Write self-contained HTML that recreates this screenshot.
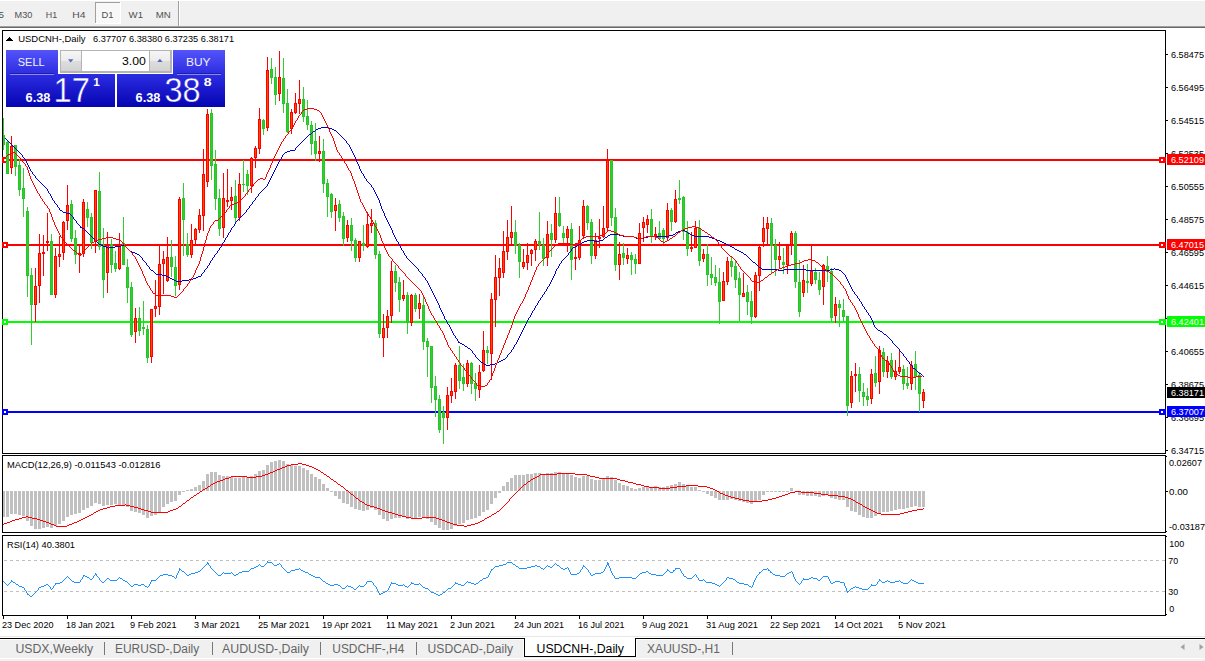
<!DOCTYPE html>
<html><head><meta charset="utf-8"><title>USDCNH Daily</title><style>html,body{margin:0;padding:0;background:#fff;overflow:hidden}svg{display:block}text{shape-rendering:auto}</style></head><body><svg width="1205" height="661" viewBox="0 0 1205 661" font-family="'Liberation Sans', sans-serif" shape-rendering="crispEdges">
<defs><linearGradient id="bl" gradientUnits="userSpaceOnUse" x1="0" y1="50" x2="0" y2="107"><stop offset="0" stop-color="#5454fa"/><stop offset="0.45" stop-color="#2a2ae0"/><stop offset="1" stop-color="#0505b2"/></linearGradient><linearGradient id="sp" x1="0" y1="0" x2="0" y2="1"><stop offset="0" stop-color="#f6f6f6"/><stop offset="0.5" stop-color="#ebebeb"/><stop offset="0.5" stop-color="#dedede"/><stop offset="1" stop-color="#d2d2d2"/></linearGradient></defs>
<rect x="0" y="0" width="1205" height="661" fill="#fff" />
<rect x="0" y="1" width="1205" height="25" fill="#f0f0f0" />
<rect x="0" y="26" width="1205" height="1" fill="#a0a0a0" />
<rect x="0" y="27" width="1205" height="1" fill="#696969" />
<rect x="95" y="2" width="26" height="22" fill="#f8f8f8" />
<rect x="95" y="2" width="26" height="1" fill="#a0a0a0" />
<rect x="95" y="2" width="1" height="22" fill="#a0a0a0" />
<rect x="95" y="23" width="26" height="1" fill="#fff" />
<rect x="120" y="2" width="1" height="22" fill="#fff" />
<rect x="178" y="1" width="1" height="25" fill="#a0a0a0" />
<rect x="179" y="1" width="1" height="25" fill="#fff" />
<text x="-1.5" y="18" font-size="9.6" fill="#505050" text-anchor="start" font-weight="normal" textLength="5.5" lengthAdjust="spacingAndGlyphs" >5</text>
<text x="14.6" y="18" font-size="9.6" fill="#505050" text-anchor="start" font-weight="normal" textLength="17.8" lengthAdjust="spacingAndGlyphs" >M30</text>
<text x="45.8" y="18" font-size="9.6" fill="#505050" text-anchor="start" font-weight="normal" textLength="11.4" lengthAdjust="spacingAndGlyphs" >H1</text>
<text x="72.2" y="18" font-size="9.6" fill="#505050" text-anchor="start" font-weight="normal" textLength="13.2" lengthAdjust="spacingAndGlyphs" >H4</text>
<text x="101.4" y="18" font-size="9.6" fill="#505050" text-anchor="start" font-weight="normal" textLength="12" lengthAdjust="spacingAndGlyphs" >D1</text>
<text x="128.6" y="18" font-size="9.6" fill="#505050" text-anchor="start" font-weight="normal" textLength="14.4" lengthAdjust="spacingAndGlyphs" >W1</text>
<text x="155.7" y="18" font-size="9.6" fill="#505050" text-anchor="start" font-weight="normal" textLength="15" lengthAdjust="spacingAndGlyphs" >MN</text>
<rect x="2" y="30" width="1164" height="1" fill="#000" />
<rect x="2" y="30" width="1" height="424" fill="#000" />
<rect x="2" y="453" width="1164" height="1" fill="#000" />
<rect x="1165" y="30" width="1" height="424" fill="#000" />
<rect x="2" y="455" width="1164" height="1" fill="#000" />
<rect x="2" y="455" width="1" height="78" fill="#000" />
<rect x="2" y="532" width="1164" height="1" fill="#000" />
<rect x="1165" y="455" width="1" height="78" fill="#000" />
<rect x="2" y="535" width="1164" height="1" fill="#000" />
<rect x="2" y="535" width="1" height="81" fill="#000" />
<rect x="2" y="615" width="1164" height="1" fill="#000" />
<rect x="1165" y="535" width="1" height="81" fill="#000" />
<rect x="1166" y="54" width="2" height="1" fill="#000" />
<text x="1171" y="58" font-size="9.6" fill="#000" text-anchor="start" font-weight="normal" textLength="33" lengthAdjust="spacingAndGlyphs" >6.58475</text>
<rect x="1166" y="87" width="2" height="1" fill="#000" />
<text x="1171" y="91" font-size="9.6" fill="#000" text-anchor="start" font-weight="normal" textLength="33" lengthAdjust="spacingAndGlyphs" >6.56495</text>
<rect x="1166" y="120" width="2" height="1" fill="#000" />
<text x="1171" y="124" font-size="9.6" fill="#000" text-anchor="start" font-weight="normal" textLength="33" lengthAdjust="spacingAndGlyphs" >6.54515</text>
<rect x="1166" y="153" width="2" height="1" fill="#000" />
<text x="1171" y="157" font-size="9.6" fill="#000" text-anchor="start" font-weight="normal" textLength="33" lengthAdjust="spacingAndGlyphs" >6.52535</text>
<rect x="1166" y="186" width="2" height="1" fill="#000" />
<text x="1171" y="190" font-size="9.6" fill="#000" text-anchor="start" font-weight="normal" textLength="33" lengthAdjust="spacingAndGlyphs" >6.50555</text>
<rect x="1166" y="219" width="2" height="1" fill="#000" />
<text x="1171" y="223" font-size="9.6" fill="#000" text-anchor="start" font-weight="normal" textLength="33" lengthAdjust="spacingAndGlyphs" >6.48575</text>
<rect x="1166" y="252" width="2" height="1" fill="#000" />
<text x="1171" y="256" font-size="9.6" fill="#000" text-anchor="start" font-weight="normal" textLength="33" lengthAdjust="spacingAndGlyphs" >6.46595</text>
<rect x="1166" y="285" width="2" height="1" fill="#000" />
<text x="1171" y="289" font-size="9.6" fill="#000" text-anchor="start" font-weight="normal" textLength="33" lengthAdjust="spacingAndGlyphs" >6.44615</text>
<rect x="1166" y="318" width="2" height="1" fill="#000" />
<text x="1171" y="322" font-size="9.6" fill="#000" text-anchor="start" font-weight="normal" textLength="33" lengthAdjust="spacingAndGlyphs" >6.42635</text>
<rect x="1166" y="351" width="2" height="1" fill="#000" />
<text x="1171" y="355" font-size="9.6" fill="#000" text-anchor="start" font-weight="normal" textLength="33" lengthAdjust="spacingAndGlyphs" >6.40655</text>
<rect x="1166" y="384" width="2" height="1" fill="#000" />
<text x="1171" y="388" font-size="9.6" fill="#000" text-anchor="start" font-weight="normal" textLength="33" lengthAdjust="spacingAndGlyphs" >6.38675</text>
<rect x="1166" y="417" width="2" height="1" fill="#000" />
<text x="1171" y="421" font-size="9.6" fill="#000" text-anchor="start" font-weight="normal" textLength="33" lengthAdjust="spacingAndGlyphs" >6.36695</text>
<rect x="1166" y="450" width="2" height="1" fill="#000" />
<text x="1171" y="454" font-size="9.6" fill="#000" text-anchor="start" font-weight="normal" textLength="33" lengthAdjust="spacingAndGlyphs" >6.34715</text>
<rect x="1166" y="456" width="1" height="1" fill="#000" />
<rect x="1166" y="531" width="1" height="1" fill="#000" />
<rect x="1166" y="536" width="1" height="1" fill="#000" />
<text x="1169" y="466.0" font-size="9.6" fill="#000" text-anchor="start" font-weight="normal" textLength="33" lengthAdjust="spacingAndGlyphs" >0.02607</text>
<rect x="1166" y="491" width="2" height="1" fill="#000" />
<text x="1169" y="495.0" font-size="9.6" fill="#000" text-anchor="start" font-weight="normal" textLength="19" lengthAdjust="spacingAndGlyphs" >0.00</text>
<text x="1169" y="529.8" font-size="9.6" fill="#000" text-anchor="start" font-weight="normal" textLength="36" lengthAdjust="spacingAndGlyphs" >-0.03187</text>
<text x="1169.3" y="546.5" font-size="9.6" fill="#000" text-anchor="start" font-weight="normal" textLength="15" lengthAdjust="spacingAndGlyphs" >100</text>
<text x="1168.3" y="564.0" font-size="9.6" fill="#000" text-anchor="start" font-weight="normal" textLength="9.8" lengthAdjust="spacingAndGlyphs" >70</text>
<text x="1168.3" y="595.0" font-size="9.6" fill="#000" text-anchor="start" font-weight="normal" textLength="9.8" lengthAdjust="spacingAndGlyphs" >30</text>
<text x="1169.2" y="612.3" font-size="9.6" fill="#000" text-anchor="start" font-weight="normal" textLength="5" lengthAdjust="spacingAndGlyphs" >0</text>
<rect x="1166" y="614" width="1" height="1" fill="#000" />
<rect x="3" y="159" width="1162" height="2" fill="#ff0000" />
<rect x="2" y="157" width="6" height="6" fill="#ff0000" />
<rect x="4" y="159" width="2" height="2" fill="#fff" />
<rect x="1159" y="157" width="7" height="6" fill="#ff0000" />
<rect x="1161" y="159" width="2" height="2" fill="#fff" />
<rect x="3" y="244" width="1162" height="2" fill="#ff0000" />
<rect x="2" y="242" width="6" height="6" fill="#ff0000" />
<rect x="4" y="244" width="2" height="2" fill="#fff" />
<rect x="1159" y="242" width="7" height="6" fill="#ff0000" />
<rect x="1161" y="244" width="2" height="2" fill="#fff" />
<rect x="3" y="321" width="1162" height="2" fill="#00ff00" />
<rect x="2" y="319" width="6" height="6" fill="#00ff00" />
<rect x="4" y="321" width="2" height="2" fill="#fff" />
<rect x="1159" y="319" width="7" height="6" fill="#00ff00" />
<rect x="1161" y="321" width="2" height="2" fill="#fff" />
<rect x="3" y="411" width="1162" height="2" fill="#0000ff" />
<rect x="2" y="409" width="6" height="6" fill="#0000ff" />
<rect x="4" y="411" width="2" height="2" fill="#fff" />
<rect x="1159" y="409" width="7" height="6" fill="#0000ff" />
<rect x="1161" y="411" width="2" height="2" fill="#fff" />
<rect x="3" y="118" width="1" height="32" fill="#32cd32" />
<rect x="3" y="135" width="2" height="10" fill="#25c625" />
<rect x="7" y="140" width="1" height="34" fill="#32cd32" />
<rect x="6" y="142" width="3" height="32" fill="#25c625" />
<rect x="7" y="143" width="1" height="30" fill="#32cd32" />
<rect x="11" y="136" width="1" height="38" fill="#ff0000" />
<rect x="10" y="146" width="3" height="22" fill="#ff0000" />
<rect x="11" y="147" width="1" height="20" fill="#ff4500" />
<rect x="15" y="145" width="1" height="31" fill="#32cd32" />
<rect x="14" y="145" width="3" height="22" fill="#25c625" />
<rect x="15" y="146" width="1" height="20" fill="#32cd32" />
<rect x="19" y="159" width="1" height="37" fill="#32cd32" />
<rect x="18" y="165" width="3" height="25" fill="#25c625" />
<rect x="19" y="166" width="1" height="23" fill="#32cd32" />
<rect x="23" y="168" width="1" height="49" fill="#32cd32" />
<rect x="22" y="188" width="3" height="11" fill="#25c625" />
<rect x="23" y="189" width="1" height="9" fill="#32cd32" />
<rect x="27" y="207" width="1" height="90" fill="#32cd32" />
<rect x="26" y="211" width="3" height="65" fill="#25c625" />
<rect x="27" y="212" width="1" height="63" fill="#32cd32" />
<rect x="31" y="268" width="1" height="77" fill="#32cd32" />
<rect x="30" y="275" width="3" height="30" fill="#25c625" />
<rect x="31" y="276" width="1" height="28" fill="#32cd32" />
<rect x="35" y="268" width="1" height="54" fill="#ff0000" />
<rect x="34" y="286" width="3" height="19" fill="#ff0000" />
<rect x="35" y="287" width="1" height="17" fill="#ff4500" />
<rect x="39" y="234" width="1" height="69" fill="#ff0000" />
<rect x="38" y="253" width="3" height="33" fill="#ff0000" />
<rect x="39" y="254" width="1" height="31" fill="#ff4500" />
<rect x="43" y="235" width="1" height="41" fill="#ff0000" />
<rect x="42" y="252" width="3" height="2" fill="#ff0000" />
<rect x="47" y="213" width="1" height="38" fill="#ff0000" />
<rect x="46" y="241" width="3" height="2" fill="#ff0000" />
<rect x="51" y="234" width="1" height="61" fill="#32cd32" />
<rect x="50" y="241" width="3" height="54" fill="#25c625" />
<rect x="51" y="242" width="1" height="52" fill="#32cd32" />
<rect x="55" y="248" width="1" height="50" fill="#ff0000" />
<rect x="54" y="256" width="3" height="39" fill="#ff0000" />
<rect x="55" y="257" width="1" height="37" fill="#ff4500" />
<rect x="59" y="236" width="1" height="31" fill="#ff0000" />
<rect x="58" y="254" width="3" height="3" fill="#ff0000" />
<rect x="59" y="255" width="1" height="1" fill="#ff4500" />
<rect x="63" y="221" width="1" height="39" fill="#ff0000" />
<rect x="62" y="222" width="3" height="31" fill="#ff0000" />
<rect x="63" y="223" width="1" height="29" fill="#ff4500" />
<rect x="67" y="185" width="1" height="45" fill="#ff0000" />
<rect x="66" y="205" width="3" height="16" fill="#ff0000" />
<rect x="67" y="206" width="1" height="14" fill="#ff4500" />
<rect x="71" y="200" width="1" height="42" fill="#32cd32" />
<rect x="70" y="204" width="3" height="35" fill="#25c625" />
<rect x="71" y="205" width="1" height="33" fill="#32cd32" />
<rect x="75" y="230" width="1" height="34" fill="#32cd32" />
<rect x="74" y="238" width="3" height="17" fill="#25c625" />
<rect x="75" y="239" width="1" height="15" fill="#32cd32" />
<rect x="79" y="245" width="1" height="28" fill="#ff0000" />
<rect x="78" y="253" width="3" height="2" fill="#ff0000" />
<rect x="83" y="199" width="1" height="58" fill="#ff0000" />
<rect x="82" y="202" width="3" height="52" fill="#ff0000" />
<rect x="83" y="203" width="1" height="50" fill="#ff4500" />
<rect x="87" y="202" width="1" height="25" fill="#32cd32" />
<rect x="86" y="209" width="3" height="9" fill="#25c625" />
<rect x="87" y="210" width="1" height="7" fill="#32cd32" />
<rect x="91" y="213" width="1" height="36" fill="#32cd32" />
<rect x="90" y="217" width="3" height="26" fill="#25c625" />
<rect x="91" y="218" width="1" height="24" fill="#32cd32" />
<rect x="95" y="190" width="1" height="63" fill="#ff0000" />
<rect x="94" y="190" width="3" height="52" fill="#ff0000" />
<rect x="95" y="191" width="1" height="50" fill="#ff4500" />
<rect x="99" y="172" width="1" height="78" fill="#32cd32" />
<rect x="98" y="191" width="3" height="56" fill="#25c625" />
<rect x="99" y="192" width="1" height="54" fill="#32cd32" />
<rect x="103" y="228" width="1" height="70" fill="#32cd32" />
<rect x="102" y="245" width="3" height="35" fill="#25c625" />
<rect x="103" y="246" width="1" height="33" fill="#32cd32" />
<rect x="107" y="232" width="1" height="61" fill="#ff0000" />
<rect x="106" y="245" width="3" height="28" fill="#ff0000" />
<rect x="107" y="246" width="1" height="26" fill="#ff4500" />
<rect x="111" y="239" width="1" height="34" fill="#32cd32" />
<rect x="110" y="244" width="3" height="21" fill="#25c625" />
<rect x="111" y="245" width="1" height="19" fill="#32cd32" />
<rect x="115" y="251" width="1" height="21" fill="#32cd32" />
<rect x="114" y="263" width="3" height="6" fill="#25c625" />
<rect x="115" y="264" width="1" height="4" fill="#32cd32" />
<rect x="119" y="233" width="1" height="37" fill="#ff0000" />
<rect x="118" y="245" width="3" height="24" fill="#ff0000" />
<rect x="119" y="246" width="1" height="22" fill="#ff4500" />
<rect x="123" y="217" width="1" height="48" fill="#32cd32" />
<rect x="122" y="243" width="3" height="22" fill="#25c625" />
<rect x="123" y="244" width="1" height="20" fill="#32cd32" />
<rect x="127" y="259" width="1" height="44" fill="#32cd32" />
<rect x="126" y="267" width="3" height="21" fill="#25c625" />
<rect x="127" y="268" width="1" height="19" fill="#32cd32" />
<rect x="131" y="282" width="1" height="55" fill="#32cd32" />
<rect x="130" y="287" width="3" height="48" fill="#25c625" />
<rect x="131" y="288" width="1" height="46" fill="#32cd32" />
<rect x="135" y="308" width="1" height="35" fill="#ff0000" />
<rect x="134" y="318" width="3" height="14" fill="#ff0000" />
<rect x="135" y="319" width="1" height="12" fill="#ff4500" />
<rect x="139" y="307" width="1" height="29" fill="#32cd32" />
<rect x="138" y="318" width="3" height="13" fill="#25c625" />
<rect x="139" y="319" width="1" height="11" fill="#32cd32" />
<rect x="143" y="301" width="1" height="34" fill="#32cd32" />
<rect x="142" y="327" width="3" height="2" fill="#25c625" />
<rect x="147" y="325" width="1" height="38" fill="#32cd32" />
<rect x="146" y="329" width="3" height="29" fill="#25c625" />
<rect x="147" y="330" width="1" height="27" fill="#32cd32" />
<rect x="151" y="309" width="1" height="54" fill="#ff0000" />
<rect x="150" y="309" width="3" height="48" fill="#ff0000" />
<rect x="151" y="310" width="1" height="46" fill="#ff4500" />
<rect x="155" y="280" width="1" height="37" fill="#ff0000" />
<rect x="154" y="306" width="3" height="3" fill="#ff0000" />
<rect x="155" y="307" width="1" height="1" fill="#ff4500" />
<rect x="159" y="246" width="1" height="69" fill="#ff0000" />
<rect x="158" y="264" width="3" height="43" fill="#ff0000" />
<rect x="159" y="265" width="1" height="41" fill="#ff4500" />
<rect x="163" y="251" width="1" height="43" fill="#ff0000" />
<rect x="162" y="259" width="3" height="5" fill="#ff0000" />
<rect x="163" y="260" width="1" height="3" fill="#ff4500" />
<rect x="167" y="237" width="1" height="45" fill="#ff0000" />
<rect x="166" y="257" width="3" height="24" fill="#ff0000" />
<rect x="167" y="258" width="1" height="22" fill="#ff4500" />
<rect x="171" y="240" width="1" height="37" fill="#32cd32" />
<rect x="170" y="257" width="3" height="10" fill="#25c625" />
<rect x="171" y="258" width="1" height="8" fill="#32cd32" />
<rect x="175" y="256" width="1" height="40" fill="#32cd32" />
<rect x="174" y="267" width="3" height="19" fill="#25c625" />
<rect x="175" y="268" width="1" height="17" fill="#32cd32" />
<rect x="179" y="197" width="1" height="93" fill="#ff0000" />
<rect x="178" y="199" width="3" height="86" fill="#ff0000" />
<rect x="179" y="200" width="1" height="84" fill="#ff4500" />
<rect x="183" y="183" width="1" height="73" fill="#32cd32" />
<rect x="182" y="198" width="3" height="22" fill="#25c625" />
<rect x="183" y="199" width="1" height="20" fill="#32cd32" />
<rect x="187" y="233" width="1" height="24" fill="#32cd32" />
<rect x="186" y="244" width="3" height="11" fill="#25c625" />
<rect x="187" y="245" width="1" height="9" fill="#32cd32" />
<rect x="191" y="224" width="1" height="34" fill="#ff0000" />
<rect x="190" y="240" width="3" height="15" fill="#ff0000" />
<rect x="191" y="241" width="1" height="13" fill="#ff4500" />
<rect x="195" y="228" width="1" height="16" fill="#ff0000" />
<rect x="194" y="229" width="3" height="11" fill="#ff0000" />
<rect x="195" y="230" width="1" height="9" fill="#ff4500" />
<rect x="199" y="209" width="1" height="24" fill="#ff0000" />
<rect x="198" y="215" width="3" height="15" fill="#ff0000" />
<rect x="199" y="216" width="1" height="13" fill="#ff4500" />
<rect x="203" y="149" width="1" height="82" fill="#ff0000" />
<rect x="202" y="174" width="3" height="42" fill="#ff0000" />
<rect x="203" y="175" width="1" height="40" fill="#ff4500" />
<rect x="207" y="109" width="1" height="78" fill="#ff0000" />
<rect x="206" y="114" width="3" height="68" fill="#ff0000" />
<rect x="207" y="115" width="1" height="66" fill="#ff4500" />
<rect x="211" y="109" width="1" height="71" fill="#32cd32" />
<rect x="210" y="113" width="3" height="53" fill="#25c625" />
<rect x="211" y="114" width="1" height="51" fill="#32cd32" />
<rect x="215" y="150" width="1" height="60" fill="#32cd32" />
<rect x="214" y="164" width="3" height="35" fill="#25c625" />
<rect x="215" y="165" width="1" height="33" fill="#32cd32" />
<rect x="219" y="189" width="1" height="47" fill="#32cd32" />
<rect x="218" y="198" width="3" height="31" fill="#25c625" />
<rect x="219" y="199" width="1" height="29" fill="#32cd32" />
<rect x="223" y="173" width="1" height="65" fill="#ff0000" />
<rect x="222" y="198" width="3" height="30" fill="#ff0000" />
<rect x="223" y="199" width="1" height="28" fill="#ff4500" />
<rect x="227" y="169" width="1" height="38" fill="#ff0000" />
<rect x="226" y="200" width="3" height="2" fill="#ff0000" />
<rect x="231" y="187" width="1" height="23" fill="#ff0000" />
<rect x="230" y="197" width="3" height="4" fill="#ff0000" />
<rect x="231" y="198" width="1" height="2" fill="#ff4500" />
<rect x="235" y="180" width="1" height="43" fill="#32cd32" />
<rect x="234" y="196" width="3" height="22" fill="#25c625" />
<rect x="235" y="197" width="1" height="20" fill="#32cd32" />
<rect x="239" y="173" width="1" height="48" fill="#ff0000" />
<rect x="238" y="184" width="3" height="34" fill="#ff0000" />
<rect x="239" y="185" width="1" height="32" fill="#ff4500" />
<rect x="243" y="160" width="1" height="32" fill="#32cd32" />
<rect x="242" y="184" width="3" height="1" fill="#25c625" />
<rect x="247" y="170" width="1" height="25" fill="#32cd32" />
<rect x="246" y="174" width="3" height="12" fill="#25c625" />
<rect x="247" y="175" width="1" height="10" fill="#32cd32" />
<rect x="251" y="157" width="1" height="36" fill="#ff0000" />
<rect x="250" y="158" width="3" height="28" fill="#ff0000" />
<rect x="251" y="159" width="1" height="26" fill="#ff4500" />
<rect x="255" y="146" width="1" height="22" fill="#ff0000" />
<rect x="254" y="148" width="3" height="10" fill="#ff0000" />
<rect x="255" y="149" width="1" height="8" fill="#ff4500" />
<rect x="259" y="108" width="1" height="46" fill="#ff0000" />
<rect x="258" y="119" width="3" height="30" fill="#ff0000" />
<rect x="259" y="120" width="1" height="28" fill="#ff4500" />
<rect x="263" y="119" width="1" height="16" fill="#32cd32" />
<rect x="262" y="120" width="3" height="9" fill="#25c625" />
<rect x="263" y="121" width="1" height="7" fill="#32cd32" />
<rect x="267" y="57" width="1" height="74" fill="#ff0000" />
<rect x="266" y="70" width="3" height="58" fill="#ff0000" />
<rect x="267" y="71" width="1" height="56" fill="#ff4500" />
<rect x="271" y="58" width="1" height="26" fill="#32cd32" />
<rect x="270" y="69" width="3" height="9" fill="#25c625" />
<rect x="271" y="70" width="1" height="7" fill="#32cd32" />
<rect x="275" y="67" width="1" height="38" fill="#32cd32" />
<rect x="274" y="77" width="3" height="18" fill="#25c625" />
<rect x="275" y="78" width="1" height="16" fill="#32cd32" />
<rect x="279" y="51" width="1" height="50" fill="#ff0000" />
<rect x="278" y="77" width="3" height="17" fill="#ff0000" />
<rect x="279" y="78" width="1" height="15" fill="#ff4500" />
<rect x="283" y="58" width="1" height="55" fill="#32cd32" />
<rect x="282" y="78" width="3" height="26" fill="#25c625" />
<rect x="283" y="79" width="1" height="24" fill="#32cd32" />
<rect x="287" y="89" width="1" height="44" fill="#32cd32" />
<rect x="286" y="103" width="3" height="29" fill="#25c625" />
<rect x="287" y="104" width="1" height="27" fill="#32cd32" />
<rect x="291" y="109" width="1" height="25" fill="#ff0000" />
<rect x="290" y="112" width="3" height="17" fill="#ff0000" />
<rect x="291" y="113" width="1" height="15" fill="#ff4500" />
<rect x="295" y="93" width="1" height="21" fill="#ff0000" />
<rect x="294" y="103" width="3" height="10" fill="#ff0000" />
<rect x="295" y="104" width="1" height="8" fill="#ff4500" />
<rect x="299" y="80" width="1" height="34" fill="#ff0000" />
<rect x="298" y="99" width="3" height="5" fill="#ff0000" />
<rect x="299" y="100" width="1" height="3" fill="#ff4500" />
<rect x="303" y="87" width="1" height="35" fill="#32cd32" />
<rect x="302" y="99" width="3" height="18" fill="#25c625" />
<rect x="303" y="100" width="1" height="16" fill="#32cd32" />
<rect x="307" y="100" width="1" height="30" fill="#32cd32" />
<rect x="306" y="116" width="3" height="9" fill="#25c625" />
<rect x="307" y="117" width="1" height="7" fill="#32cd32" />
<rect x="311" y="121" width="1" height="34" fill="#32cd32" />
<rect x="310" y="125" width="3" height="19" fill="#25c625" />
<rect x="311" y="126" width="1" height="17" fill="#32cd32" />
<rect x="315" y="123" width="1" height="38" fill="#32cd32" />
<rect x="314" y="141" width="3" height="13" fill="#25c625" />
<rect x="315" y="142" width="1" height="11" fill="#32cd32" />
<rect x="319" y="136" width="1" height="26" fill="#ff0000" />
<rect x="318" y="151" width="3" height="3" fill="#ff0000" />
<rect x="319" y="152" width="1" height="1" fill="#ff4500" />
<rect x="323" y="139" width="1" height="54" fill="#32cd32" />
<rect x="322" y="151" width="3" height="33" fill="#25c625" />
<rect x="323" y="152" width="1" height="31" fill="#32cd32" />
<rect x="327" y="179" width="1" height="38" fill="#32cd32" />
<rect x="326" y="183" width="3" height="14" fill="#25c625" />
<rect x="327" y="184" width="1" height="12" fill="#32cd32" />
<rect x="331" y="193" width="1" height="25" fill="#32cd32" />
<rect x="330" y="194" width="3" height="18" fill="#25c625" />
<rect x="331" y="195" width="1" height="16" fill="#32cd32" />
<rect x="335" y="198" width="1" height="33" fill="#ff0000" />
<rect x="334" y="205" width="3" height="6" fill="#ff0000" />
<rect x="335" y="206" width="1" height="4" fill="#ff4500" />
<rect x="339" y="200" width="1" height="22" fill="#32cd32" />
<rect x="338" y="204" width="3" height="14" fill="#25c625" />
<rect x="339" y="205" width="1" height="12" fill="#32cd32" />
<rect x="343" y="212" width="1" height="34" fill="#32cd32" />
<rect x="342" y="216" width="3" height="23" fill="#25c625" />
<rect x="343" y="217" width="1" height="21" fill="#32cd32" />
<rect x="347" y="220" width="1" height="22" fill="#ff0000" />
<rect x="346" y="225" width="3" height="13" fill="#ff0000" />
<rect x="347" y="226" width="1" height="11" fill="#ff4500" />
<rect x="351" y="218" width="1" height="33" fill="#32cd32" />
<rect x="350" y="225" width="3" height="16" fill="#25c625" />
<rect x="351" y="226" width="1" height="14" fill="#32cd32" />
<rect x="355" y="238" width="1" height="24" fill="#32cd32" />
<rect x="354" y="240" width="3" height="18" fill="#25c625" />
<rect x="355" y="241" width="1" height="16" fill="#32cd32" />
<rect x="359" y="241" width="1" height="21" fill="#ff0000" />
<rect x="358" y="241" width="3" height="17" fill="#ff0000" />
<rect x="359" y="242" width="1" height="15" fill="#ff4500" />
<rect x="363" y="225" width="1" height="26" fill="#32cd32" />
<rect x="362" y="243" width="3" height="3" fill="#25c625" />
<rect x="363" y="244" width="1" height="1" fill="#32cd32" />
<rect x="367" y="212" width="1" height="36" fill="#ff0000" />
<rect x="366" y="224" width="3" height="23" fill="#ff0000" />
<rect x="367" y="225" width="1" height="21" fill="#ff4500" />
<rect x="371" y="209" width="1" height="24" fill="#ff0000" />
<rect x="370" y="223" width="3" height="3" fill="#ff0000" />
<rect x="371" y="224" width="1" height="1" fill="#ff4500" />
<rect x="375" y="220" width="1" height="39" fill="#32cd32" />
<rect x="374" y="223" width="3" height="32" fill="#25c625" />
<rect x="375" y="224" width="1" height="30" fill="#32cd32" />
<rect x="379" y="251" width="1" height="87" fill="#32cd32" />
<rect x="378" y="254" width="3" height="80" fill="#25c625" />
<rect x="379" y="255" width="1" height="78" fill="#32cd32" />
<rect x="383" y="314" width="1" height="43" fill="#ff0000" />
<rect x="382" y="328" width="3" height="10" fill="#ff0000" />
<rect x="383" y="329" width="1" height="8" fill="#ff4500" />
<rect x="387" y="310" width="1" height="28" fill="#ff0000" />
<rect x="386" y="316" width="3" height="12" fill="#ff0000" />
<rect x="387" y="317" width="1" height="10" fill="#ff4500" />
<rect x="391" y="261" width="1" height="62" fill="#ff0000" />
<rect x="390" y="271" width="3" height="45" fill="#ff0000" />
<rect x="391" y="272" width="1" height="43" fill="#ff4500" />
<rect x="395" y="265" width="1" height="27" fill="#32cd32" />
<rect x="394" y="271" width="3" height="12" fill="#25c625" />
<rect x="395" y="272" width="1" height="10" fill="#32cd32" />
<rect x="399" y="277" width="1" height="35" fill="#32cd32" />
<rect x="398" y="282" width="3" height="18" fill="#25c625" />
<rect x="399" y="283" width="1" height="16" fill="#32cd32" />
<rect x="403" y="280" width="1" height="21" fill="#ff0000" />
<rect x="402" y="295" width="3" height="4" fill="#ff0000" />
<rect x="403" y="296" width="1" height="2" fill="#ff4500" />
<rect x="407" y="292" width="1" height="42" fill="#32cd32" />
<rect x="406" y="295" width="3" height="28" fill="#25c625" />
<rect x="407" y="296" width="1" height="26" fill="#32cd32" />
<rect x="411" y="294" width="1" height="32" fill="#ff0000" />
<rect x="410" y="295" width="3" height="28" fill="#ff0000" />
<rect x="411" y="296" width="1" height="26" fill="#ff4500" />
<rect x="415" y="293" width="1" height="19" fill="#32cd32" />
<rect x="414" y="295" width="3" height="14" fill="#25c625" />
<rect x="415" y="296" width="1" height="12" fill="#32cd32" />
<rect x="419" y="294" width="1" height="25" fill="#ff0000" />
<rect x="418" y="303" width="3" height="6" fill="#ff0000" />
<rect x="419" y="304" width="1" height="4" fill="#ff4500" />
<rect x="423" y="295" width="1" height="55" fill="#32cd32" />
<rect x="422" y="305" width="3" height="37" fill="#25c625" />
<rect x="423" y="306" width="1" height="35" fill="#32cd32" />
<rect x="427" y="338" width="1" height="39" fill="#32cd32" />
<rect x="426" y="341" width="3" height="6" fill="#25c625" />
<rect x="427" y="342" width="1" height="4" fill="#32cd32" />
<rect x="431" y="346" width="1" height="57" fill="#32cd32" />
<rect x="430" y="346" width="3" height="42" fill="#25c625" />
<rect x="431" y="347" width="1" height="40" fill="#32cd32" />
<rect x="435" y="376" width="1" height="41" fill="#32cd32" />
<rect x="434" y="386" width="3" height="14" fill="#25c625" />
<rect x="435" y="387" width="1" height="12" fill="#32cd32" />
<rect x="439" y="395" width="1" height="38" fill="#32cd32" />
<rect x="438" y="399" width="3" height="31" fill="#25c625" />
<rect x="439" y="400" width="1" height="29" fill="#32cd32" />
<rect x="443" y="406" width="1" height="38" fill="#32cd32" />
<rect x="442" y="412" width="3" height="6" fill="#25c625" />
<rect x="443" y="413" width="1" height="4" fill="#32cd32" />
<rect x="447" y="387" width="1" height="43" fill="#ff0000" />
<rect x="446" y="395" width="3" height="23" fill="#ff0000" />
<rect x="447" y="396" width="1" height="21" fill="#ff4500" />
<rect x="451" y="378" width="1" height="25" fill="#ff0000" />
<rect x="450" y="391" width="3" height="5" fill="#ff0000" />
<rect x="451" y="392" width="1" height="3" fill="#ff4500" />
<rect x="455" y="363" width="1" height="36" fill="#ff0000" />
<rect x="454" y="365" width="3" height="27" fill="#ff0000" />
<rect x="455" y="366" width="1" height="25" fill="#ff4500" />
<rect x="459" y="346" width="1" height="43" fill="#32cd32" />
<rect x="458" y="365" width="3" height="16" fill="#25c625" />
<rect x="459" y="366" width="1" height="14" fill="#32cd32" />
<rect x="463" y="364" width="1" height="27" fill="#32cd32" />
<rect x="462" y="377" width="3" height="7" fill="#25c625" />
<rect x="463" y="378" width="1" height="5" fill="#32cd32" />
<rect x="467" y="360" width="1" height="27" fill="#ff0000" />
<rect x="466" y="363" width="3" height="21" fill="#ff0000" />
<rect x="467" y="364" width="1" height="19" fill="#ff4500" />
<rect x="471" y="362" width="1" height="32" fill="#32cd32" />
<rect x="470" y="363" width="3" height="21" fill="#25c625" />
<rect x="471" y="364" width="1" height="19" fill="#32cd32" />
<rect x="475" y="373" width="1" height="28" fill="#32cd32" />
<rect x="474" y="383" width="3" height="6" fill="#25c625" />
<rect x="475" y="384" width="1" height="4" fill="#32cd32" />
<rect x="479" y="365" width="1" height="33" fill="#ff0000" />
<rect x="478" y="372" width="3" height="18" fill="#ff0000" />
<rect x="479" y="373" width="1" height="16" fill="#ff4500" />
<rect x="483" y="331" width="1" height="41" fill="#ff0000" />
<rect x="482" y="350" width="3" height="21" fill="#ff0000" />
<rect x="483" y="351" width="1" height="19" fill="#ff4500" />
<rect x="487" y="346" width="1" height="18" fill="#32cd32" />
<rect x="486" y="350" width="3" height="3" fill="#25c625" />
<rect x="487" y="351" width="1" height="1" fill="#32cd32" />
<rect x="491" y="293" width="1" height="87" fill="#ff0000" />
<rect x="490" y="299" width="3" height="55" fill="#ff0000" />
<rect x="491" y="300" width="1" height="53" fill="#ff4500" />
<rect x="495" y="255" width="1" height="72" fill="#ff0000" />
<rect x="494" y="277" width="3" height="23" fill="#ff0000" />
<rect x="495" y="278" width="1" height="21" fill="#ff4500" />
<rect x="499" y="258" width="1" height="38" fill="#ff0000" />
<rect x="498" y="268" width="3" height="10" fill="#ff0000" />
<rect x="499" y="269" width="1" height="8" fill="#ff4500" />
<rect x="503" y="231" width="1" height="47" fill="#ff0000" />
<rect x="502" y="251" width="3" height="22" fill="#ff0000" />
<rect x="503" y="252" width="1" height="20" fill="#ff4500" />
<rect x="507" y="220" width="1" height="40" fill="#ff0000" />
<rect x="506" y="237" width="3" height="15" fill="#ff0000" />
<rect x="507" y="238" width="1" height="13" fill="#ff4500" />
<rect x="511" y="206" width="1" height="38" fill="#ff0000" />
<rect x="510" y="232" width="3" height="6" fill="#ff0000" />
<rect x="511" y="233" width="1" height="4" fill="#ff4500" />
<rect x="515" y="220" width="1" height="34" fill="#32cd32" />
<rect x="514" y="232" width="3" height="14" fill="#25c625" />
<rect x="515" y="233" width="1" height="12" fill="#32cd32" />
<rect x="519" y="243" width="1" height="35" fill="#32cd32" />
<rect x="518" y="245" width="3" height="17" fill="#25c625" />
<rect x="519" y="246" width="1" height="15" fill="#32cd32" />
<rect x="523" y="249" width="1" height="20" fill="#ff0000" />
<rect x="522" y="262" width="3" height="5" fill="#ff0000" />
<rect x="523" y="263" width="1" height="3" fill="#ff4500" />
<rect x="527" y="243" width="1" height="27" fill="#ff0000" />
<rect x="526" y="255" width="3" height="8" fill="#ff0000" />
<rect x="527" y="256" width="1" height="6" fill="#ff4500" />
<rect x="531" y="249" width="1" height="17" fill="#ff0000" />
<rect x="530" y="250" width="3" height="4" fill="#ff0000" />
<rect x="531" y="251" width="1" height="2" fill="#ff4500" />
<rect x="535" y="239" width="1" height="22" fill="#ff0000" />
<rect x="534" y="241" width="3" height="9" fill="#ff0000" />
<rect x="535" y="242" width="1" height="7" fill="#ff4500" />
<rect x="539" y="212" width="1" height="38" fill="#32cd32" />
<rect x="538" y="241" width="3" height="4" fill="#25c625" />
<rect x="539" y="242" width="1" height="2" fill="#32cd32" />
<rect x="543" y="238" width="1" height="28" fill="#32cd32" />
<rect x="542" y="245" width="3" height="14" fill="#25c625" />
<rect x="543" y="246" width="1" height="12" fill="#32cd32" />
<rect x="547" y="221" width="1" height="45" fill="#ff0000" />
<rect x="546" y="234" width="3" height="24" fill="#ff0000" />
<rect x="547" y="235" width="1" height="22" fill="#ff4500" />
<rect x="551" y="224" width="1" height="33" fill="#32cd32" />
<rect x="550" y="233" width="3" height="7" fill="#25c625" />
<rect x="551" y="234" width="1" height="5" fill="#32cd32" />
<rect x="555" y="197" width="1" height="46" fill="#ff0000" />
<rect x="554" y="213" width="3" height="27" fill="#ff0000" />
<rect x="555" y="214" width="1" height="25" fill="#ff4500" />
<rect x="559" y="197" width="1" height="30" fill="#32cd32" />
<rect x="558" y="213" width="3" height="13" fill="#25c625" />
<rect x="559" y="214" width="1" height="11" fill="#32cd32" />
<rect x="563" y="226" width="1" height="17" fill="#32cd32" />
<rect x="562" y="233" width="3" height="5" fill="#25c625" />
<rect x="563" y="234" width="1" height="3" fill="#32cd32" />
<rect x="567" y="226" width="1" height="26" fill="#ff0000" />
<rect x="566" y="229" width="3" height="9" fill="#ff0000" />
<rect x="567" y="230" width="1" height="7" fill="#ff4500" />
<rect x="571" y="223" width="1" height="57" fill="#32cd32" />
<rect x="570" y="229" width="3" height="31" fill="#25c625" />
<rect x="571" y="230" width="1" height="29" fill="#32cd32" />
<rect x="575" y="247" width="1" height="23" fill="#ff0000" />
<rect x="574" y="257" width="3" height="2" fill="#ff0000" />
<rect x="579" y="226" width="1" height="34" fill="#ff0000" />
<rect x="578" y="240" width="3" height="18" fill="#ff0000" />
<rect x="579" y="241" width="1" height="16" fill="#ff4500" />
<rect x="583" y="200" width="1" height="38" fill="#ff0000" />
<rect x="582" y="206" width="3" height="30" fill="#ff0000" />
<rect x="583" y="207" width="1" height="28" fill="#ff4500" />
<rect x="587" y="205" width="1" height="25" fill="#32cd32" />
<rect x="586" y="206" width="3" height="17" fill="#25c625" />
<rect x="587" y="207" width="1" height="15" fill="#32cd32" />
<rect x="591" y="219" width="1" height="45" fill="#32cd32" />
<rect x="590" y="222" width="3" height="34" fill="#25c625" />
<rect x="591" y="223" width="1" height="32" fill="#32cd32" />
<rect x="595" y="233" width="1" height="26" fill="#ff0000" />
<rect x="594" y="240" width="3" height="16" fill="#ff0000" />
<rect x="595" y="241" width="1" height="14" fill="#ff4500" />
<rect x="599" y="219" width="1" height="29" fill="#ff0000" />
<rect x="598" y="237" width="3" height="2" fill="#ff0000" />
<rect x="603" y="206" width="1" height="32" fill="#ff0000" />
<rect x="602" y="228" width="3" height="9" fill="#ff0000" />
<rect x="603" y="229" width="1" height="7" fill="#ff4500" />
<rect x="607" y="149" width="1" height="83" fill="#ff0000" />
<rect x="606" y="160" width="3" height="68" fill="#ff0000" />
<rect x="607" y="161" width="1" height="66" fill="#ff4500" />
<rect x="611" y="160" width="1" height="66" fill="#32cd32" />
<rect x="610" y="160" width="3" height="58" fill="#25c625" />
<rect x="611" y="161" width="1" height="56" fill="#32cd32" />
<rect x="615" y="208" width="1" height="63" fill="#32cd32" />
<rect x="614" y="217" width="3" height="48" fill="#25c625" />
<rect x="615" y="218" width="1" height="46" fill="#32cd32" />
<rect x="619" y="242" width="1" height="38" fill="#ff0000" />
<rect x="618" y="254" width="3" height="11" fill="#ff0000" />
<rect x="619" y="255" width="1" height="9" fill="#ff4500" />
<rect x="623" y="243" width="1" height="22" fill="#32cd32" />
<rect x="622" y="253" width="3" height="5" fill="#25c625" />
<rect x="623" y="254" width="1" height="3" fill="#32cd32" />
<rect x="627" y="248" width="1" height="16" fill="#ff0000" />
<rect x="626" y="255" width="3" height="4" fill="#ff0000" />
<rect x="627" y="256" width="1" height="2" fill="#ff4500" />
<rect x="631" y="252" width="1" height="23" fill="#32cd32" />
<rect x="630" y="255" width="3" height="5" fill="#25c625" />
<rect x="631" y="256" width="1" height="3" fill="#32cd32" />
<rect x="635" y="254" width="1" height="20" fill="#32cd32" />
<rect x="634" y="259" width="3" height="5" fill="#25c625" />
<rect x="635" y="260" width="1" height="3" fill="#32cd32" />
<rect x="639" y="223" width="1" height="41" fill="#ff0000" />
<rect x="638" y="233" width="3" height="31" fill="#ff0000" />
<rect x="639" y="234" width="1" height="29" fill="#ff4500" />
<rect x="643" y="217" width="1" height="25" fill="#ff0000" />
<rect x="642" y="222" width="3" height="6" fill="#ff0000" />
<rect x="643" y="223" width="1" height="4" fill="#ff4500" />
<rect x="647" y="215" width="1" height="18" fill="#ff0000" />
<rect x="646" y="219" width="3" height="6" fill="#ff0000" />
<rect x="647" y="220" width="1" height="4" fill="#ff4500" />
<rect x="651" y="209" width="1" height="34" fill="#32cd32" />
<rect x="650" y="219" width="3" height="18" fill="#25c625" />
<rect x="651" y="220" width="1" height="16" fill="#32cd32" />
<rect x="655" y="227" width="1" height="13" fill="#ff0000" />
<rect x="654" y="234" width="3" height="2" fill="#ff0000" />
<rect x="659" y="221" width="1" height="19" fill="#32cd32" />
<rect x="658" y="233" width="3" height="6" fill="#25c625" />
<rect x="659" y="234" width="1" height="4" fill="#32cd32" />
<rect x="663" y="228" width="1" height="16" fill="#32cd32" />
<rect x="662" y="230" width="3" height="9" fill="#25c625" />
<rect x="663" y="231" width="1" height="7" fill="#32cd32" />
<rect x="667" y="203" width="1" height="37" fill="#ff0000" />
<rect x="666" y="210" width="3" height="28" fill="#ff0000" />
<rect x="667" y="211" width="1" height="26" fill="#ff4500" />
<rect x="671" y="208" width="1" height="23" fill="#32cd32" />
<rect x="670" y="210" width="3" height="12" fill="#25c625" />
<rect x="671" y="211" width="1" height="10" fill="#32cd32" />
<rect x="675" y="190" width="1" height="33" fill="#ff0000" />
<rect x="674" y="199" width="3" height="23" fill="#ff0000" />
<rect x="675" y="200" width="1" height="21" fill="#ff4500" />
<rect x="679" y="180" width="1" height="24" fill="#32cd32" />
<rect x="678" y="198" width="3" height="2" fill="#25c625" />
<rect x="683" y="196" width="1" height="44" fill="#32cd32" />
<rect x="682" y="197" width="3" height="35" fill="#25c625" />
<rect x="683" y="198" width="1" height="33" fill="#32cd32" />
<rect x="687" y="221" width="1" height="35" fill="#32cd32" />
<rect x="686" y="232" width="3" height="17" fill="#25c625" />
<rect x="687" y="233" width="1" height="15" fill="#32cd32" />
<rect x="691" y="232" width="1" height="20" fill="#ff0000" />
<rect x="690" y="247" width="3" height="2" fill="#ff0000" />
<rect x="695" y="221" width="1" height="27" fill="#ff0000" />
<rect x="694" y="228" width="3" height="20" fill="#ff0000" />
<rect x="695" y="229" width="1" height="18" fill="#ff4500" />
<rect x="699" y="220" width="1" height="46" fill="#32cd32" />
<rect x="698" y="228" width="3" height="33" fill="#25c625" />
<rect x="699" y="229" width="1" height="31" fill="#32cd32" />
<rect x="703" y="249" width="1" height="13" fill="#ff0000" />
<rect x="702" y="254" width="3" height="5" fill="#ff0000" />
<rect x="703" y="255" width="1" height="3" fill="#ff4500" />
<rect x="707" y="244" width="1" height="42" fill="#32cd32" />
<rect x="706" y="254" width="3" height="21" fill="#25c625" />
<rect x="707" y="255" width="1" height="19" fill="#32cd32" />
<rect x="711" y="257" width="1" height="28" fill="#32cd32" />
<rect x="710" y="274" width="3" height="4" fill="#25c625" />
<rect x="711" y="275" width="1" height="2" fill="#32cd32" />
<rect x="715" y="265" width="1" height="21" fill="#32cd32" />
<rect x="714" y="277" width="3" height="6" fill="#25c625" />
<rect x="715" y="278" width="1" height="4" fill="#32cd32" />
<rect x="719" y="268" width="1" height="56" fill="#32cd32" />
<rect x="718" y="282" width="3" height="20" fill="#25c625" />
<rect x="719" y="283" width="1" height="18" fill="#32cd32" />
<rect x="723" y="272" width="1" height="29" fill="#ff0000" />
<rect x="722" y="281" width="3" height="20" fill="#ff0000" />
<rect x="723" y="282" width="1" height="18" fill="#ff4500" />
<rect x="727" y="257" width="1" height="28" fill="#ff0000" />
<rect x="726" y="261" width="3" height="21" fill="#ff0000" />
<rect x="727" y="262" width="1" height="19" fill="#ff4500" />
<rect x="731" y="257" width="1" height="20" fill="#32cd32" />
<rect x="730" y="261" width="3" height="6" fill="#25c625" />
<rect x="731" y="262" width="1" height="4" fill="#32cd32" />
<rect x="735" y="260" width="1" height="28" fill="#32cd32" />
<rect x="734" y="266" width="3" height="14" fill="#25c625" />
<rect x="735" y="267" width="1" height="12" fill="#32cd32" />
<rect x="739" y="272" width="1" height="49" fill="#32cd32" />
<rect x="738" y="278" width="3" height="17" fill="#25c625" />
<rect x="739" y="279" width="1" height="15" fill="#32cd32" />
<rect x="743" y="273" width="1" height="24" fill="#ff0000" />
<rect x="742" y="293" width="3" height="4" fill="#ff0000" />
<rect x="743" y="294" width="1" height="2" fill="#ff4500" />
<rect x="747" y="285" width="1" height="30" fill="#32cd32" />
<rect x="746" y="292" width="3" height="10" fill="#25c625" />
<rect x="747" y="293" width="1" height="8" fill="#32cd32" />
<rect x="751" y="291" width="1" height="33" fill="#32cd32" />
<rect x="750" y="301" width="3" height="16" fill="#25c625" />
<rect x="751" y="302" width="1" height="14" fill="#32cd32" />
<rect x="755" y="272" width="1" height="46" fill="#ff0000" />
<rect x="754" y="275" width="3" height="42" fill="#ff0000" />
<rect x="755" y="276" width="1" height="40" fill="#ff4500" />
<rect x="759" y="244" width="1" height="47" fill="#ff0000" />
<rect x="758" y="247" width="3" height="29" fill="#ff0000" />
<rect x="759" y="248" width="1" height="27" fill="#ff4500" />
<rect x="763" y="217" width="1" height="30" fill="#ff0000" />
<rect x="762" y="228" width="3" height="14" fill="#ff0000" />
<rect x="763" y="229" width="1" height="12" fill="#ff4500" />
<rect x="767" y="217" width="1" height="28" fill="#ff0000" />
<rect x="766" y="223" width="3" height="6" fill="#ff0000" />
<rect x="767" y="224" width="1" height="4" fill="#ff4500" />
<rect x="771" y="218" width="1" height="56" fill="#32cd32" />
<rect x="770" y="223" width="3" height="23" fill="#25c625" />
<rect x="771" y="224" width="1" height="21" fill="#32cd32" />
<rect x="775" y="239" width="1" height="37" fill="#32cd32" />
<rect x="774" y="245" width="3" height="15" fill="#25c625" />
<rect x="775" y="246" width="1" height="13" fill="#32cd32" />
<rect x="779" y="242" width="1" height="26" fill="#ff0000" />
<rect x="778" y="256" width="3" height="4" fill="#ff0000" />
<rect x="779" y="257" width="1" height="2" fill="#ff4500" />
<rect x="783" y="248" width="1" height="26" fill="#32cd32" />
<rect x="782" y="262" width="3" height="3" fill="#25c625" />
<rect x="783" y="263" width="1" height="1" fill="#32cd32" />
<rect x="787" y="244" width="1" height="30" fill="#ff0000" />
<rect x="786" y="245" width="3" height="20" fill="#ff0000" />
<rect x="787" y="246" width="1" height="18" fill="#ff4500" />
<rect x="791" y="231" width="1" height="24" fill="#ff0000" />
<rect x="790" y="233" width="3" height="12" fill="#ff0000" />
<rect x="791" y="234" width="1" height="10" fill="#ff4500" />
<rect x="795" y="231" width="1" height="57" fill="#32cd32" />
<rect x="794" y="233" width="3" height="49" fill="#25c625" />
<rect x="795" y="234" width="1" height="47" fill="#32cd32" />
<rect x="799" y="260" width="1" height="57" fill="#32cd32" />
<rect x="798" y="282" width="3" height="30" fill="#25c625" />
<rect x="799" y="283" width="1" height="28" fill="#32cd32" />
<rect x="803" y="265" width="1" height="32" fill="#ff0000" />
<rect x="802" y="280" width="3" height="13" fill="#ff0000" />
<rect x="803" y="281" width="1" height="11" fill="#ff4500" />
<rect x="807" y="264" width="1" height="29" fill="#32cd32" />
<rect x="806" y="281" width="3" height="2" fill="#25c625" />
<rect x="811" y="245" width="1" height="41" fill="#ff0000" />
<rect x="810" y="271" width="3" height="13" fill="#ff0000" />
<rect x="811" y="272" width="1" height="11" fill="#ff4500" />
<rect x="815" y="268" width="1" height="16" fill="#32cd32" />
<rect x="814" y="272" width="3" height="8" fill="#25c625" />
<rect x="815" y="273" width="1" height="6" fill="#32cd32" />
<rect x="819" y="272" width="1" height="23" fill="#32cd32" />
<rect x="818" y="280" width="3" height="10" fill="#25c625" />
<rect x="819" y="281" width="1" height="8" fill="#32cd32" />
<rect x="823" y="264" width="1" height="41" fill="#ff0000" />
<rect x="822" y="265" width="3" height="22" fill="#ff0000" />
<rect x="823" y="266" width="1" height="20" fill="#ff4500" />
<rect x="827" y="256" width="1" height="26" fill="#32cd32" />
<rect x="826" y="266" width="3" height="6" fill="#25c625" />
<rect x="827" y="267" width="1" height="4" fill="#32cd32" />
<rect x="831" y="268" width="1" height="54" fill="#32cd32" />
<rect x="830" y="271" width="3" height="47" fill="#25c625" />
<rect x="831" y="272" width="1" height="45" fill="#32cd32" />
<rect x="835" y="297" width="1" height="26" fill="#ff0000" />
<rect x="834" y="304" width="3" height="12" fill="#ff0000" />
<rect x="835" y="305" width="1" height="10" fill="#ff4500" />
<rect x="839" y="300" width="1" height="27" fill="#32cd32" />
<rect x="838" y="304" width="3" height="4" fill="#25c625" />
<rect x="839" y="305" width="1" height="2" fill="#32cd32" />
<rect x="843" y="299" width="1" height="23" fill="#32cd32" />
<rect x="842" y="310" width="3" height="7" fill="#25c625" />
<rect x="843" y="311" width="1" height="5" fill="#32cd32" />
<rect x="847" y="316" width="1" height="100" fill="#32cd32" />
<rect x="846" y="316" width="3" height="90" fill="#25c625" />
<rect x="847" y="317" width="1" height="88" fill="#32cd32" />
<rect x="851" y="371" width="1" height="37" fill="#ff0000" />
<rect x="850" y="376" width="3" height="27" fill="#ff0000" />
<rect x="851" y="377" width="1" height="25" fill="#ff4500" />
<rect x="855" y="363" width="1" height="29" fill="#ff0000" />
<rect x="854" y="374" width="3" height="2" fill="#ff0000" />
<rect x="859" y="367" width="1" height="35" fill="#32cd32" />
<rect x="858" y="374" width="3" height="17" fill="#25c625" />
<rect x="859" y="375" width="1" height="15" fill="#32cd32" />
<rect x="863" y="383" width="1" height="23" fill="#32cd32" />
<rect x="862" y="392" width="3" height="5" fill="#25c625" />
<rect x="863" y="393" width="1" height="3" fill="#32cd32" />
<rect x="867" y="388" width="1" height="18" fill="#32cd32" />
<rect x="866" y="396" width="3" height="4" fill="#25c625" />
<rect x="867" y="397" width="1" height="2" fill="#32cd32" />
<rect x="871" y="369" width="1" height="35" fill="#ff0000" />
<rect x="870" y="374" width="3" height="25" fill="#ff0000" />
<rect x="871" y="375" width="1" height="23" fill="#ff4500" />
<rect x="875" y="356" width="1" height="31" fill="#32cd32" />
<rect x="874" y="373" width="3" height="10" fill="#25c625" />
<rect x="875" y="374" width="1" height="8" fill="#32cd32" />
<rect x="879" y="346" width="1" height="48" fill="#ff0000" />
<rect x="878" y="350" width="3" height="32" fill="#ff0000" />
<rect x="879" y="351" width="1" height="30" fill="#ff4500" />
<rect x="883" y="348" width="1" height="29" fill="#32cd32" />
<rect x="882" y="352" width="3" height="20" fill="#25c625" />
<rect x="883" y="353" width="1" height="18" fill="#32cd32" />
<rect x="887" y="356" width="1" height="22" fill="#ff0000" />
<rect x="886" y="361" width="3" height="11" fill="#ff0000" />
<rect x="887" y="362" width="1" height="9" fill="#ff4500" />
<rect x="891" y="353" width="1" height="26" fill="#32cd32" />
<rect x="890" y="360" width="3" height="17" fill="#25c625" />
<rect x="891" y="361" width="1" height="15" fill="#32cd32" />
<rect x="895" y="360" width="1" height="20" fill="#ff0000" />
<rect x="894" y="371" width="3" height="6" fill="#ff0000" />
<rect x="895" y="372" width="1" height="4" fill="#ff4500" />
<rect x="899" y="351" width="1" height="23" fill="#ff0000" />
<rect x="898" y="367" width="3" height="5" fill="#ff0000" />
<rect x="899" y="368" width="1" height="3" fill="#ff4500" />
<rect x="903" y="365" width="1" height="25" fill="#32cd32" />
<rect x="902" y="369" width="3" height="15" fill="#25c625" />
<rect x="903" y="370" width="1" height="13" fill="#32cd32" />
<rect x="907" y="367" width="1" height="22" fill="#32cd32" />
<rect x="906" y="383" width="3" height="3" fill="#25c625" />
<rect x="907" y="384" width="1" height="1" fill="#32cd32" />
<rect x="911" y="361" width="1" height="29" fill="#ff0000" />
<rect x="910" y="365" width="3" height="19" fill="#ff0000" />
<rect x="911" y="366" width="1" height="17" fill="#ff4500" />
<rect x="915" y="351" width="1" height="39" fill="#32cd32" />
<rect x="914" y="364" width="3" height="13" fill="#25c625" />
<rect x="915" y="365" width="1" height="11" fill="#32cd32" />
<rect x="919" y="372" width="1" height="40" fill="#32cd32" />
<rect x="918" y="375" width="3" height="19" fill="#25c625" />
<rect x="919" y="376" width="1" height="17" fill="#32cd32" />
<rect x="923" y="389" width="1" height="19" fill="#ff0000" />
<rect x="922" y="392" width="3" height="9" fill="#ff0000" />
<rect x="923" y="393" width="1" height="7" fill="#ff4500" />
<path d="M5.5 138v1M6.5 139v1M7.5 140v1M8.5 141v1M9.5 142v1M10.5 143v1M11.5 144v1M12.5 145v1M13.5 146v1M14.5 147v1M15.5 148v1M16.5 149v1M17.5 150v1M18.5 151v1M19.5 152v1M20.5 153v1M21.5 154v1M22.5 155v2M23.5 157v1M24.5 158v1M25.5 159v2M26.5 161v2M27.5 163v2M28.5 165v2M29.5 167v2M30.5 169v2M31.5 171v1M32.5 172v2M33.5 174v1M34.5 175v1M35.5 176v2M36.5 178v1M37.5 179v1M38.5 180v1M39.5 181v1M40.5 182v1M41.5 183v1M42.5 184v1M43.5 185v1M44.5 186v1M45.5 187v1M46.5 188v1M47.5 189v2M48.5 191v2M49.5 193v1M50.5 194v2M51.5 196v2M52.5 198v2M53.5 200v1M54.5 201v2M55.5 203v1M56.5 204v1M57.5 205v2M58.5 207v1M59.5 208v2M60.5 210v1M61.5 210v1M62.5 211v1M63.5 212v1M64.5 212v1M65.5 212v1M66.5 213v1M67.5 213v1M68.5 213v1M69.5 213v1M70.5 214v1M71.5 215v1M72.5 216v1M73.5 217v2M74.5 219v1M75.5 220v1M76.5 221v2M77.5 223v1M78.5 224v1M79.5 225v1M80.5 226v2M81.5 227v1M82.5 228v1M83.5 228v1M84.5 229v1M85.5 230v1M86.5 231v1M87.5 232v1M88.5 233v1M89.5 234v1M90.5 235v1M91.5 236v1M92.5 237v1M93.5 238v1M94.5 239v1M95.5 240v1M96.5 241v1M97.5 242v1M98.5 243v1M99.5 244v1M100.5 244v1M101.5 245v1M102.5 245v1M103.5 246v1M104.5 246v1M105.5 246v1M106.5 247v1M107.5 247v1M108.5 248v1M109.5 247v1M110.5 247v1M111.5 247v1M112.5 247v1M113.5 247v1M114.5 247v1M115.5 246v1M116.5 246v1M117.5 246v1M118.5 246v1M119.5 246v1M120.5 246v1M121.5 245v1M122.5 245v1M123.5 245v1M124.5 245v1M125.5 246v1M126.5 247v1M127.5 248v1M128.5 249v1M129.5 250v1M130.5 251v1M131.5 251v1M132.5 252v1M133.5 252v1M134.5 252v1M135.5 253v1M136.5 253v1M137.5 254v1M138.5 254v1M139.5 255v1M140.5 256v1M141.5 257v1M142.5 258v2M143.5 260v1M144.5 261v1M145.5 262v1M146.5 263v2M147.5 265v1M148.5 266v1M149.5 267v2M150.5 269v1M151.5 270v1M152.5 270v1M153.5 271v1M154.5 272v1M155.5 273v1M156.5 274v1M157.5 274v1M158.5 274v1M159.5 274v1M160.5 274v1M161.5 274v1M162.5 275v1M163.5 275v1M164.5 275v1M165.5 275v1M166.5 276v1M167.5 276v1M168.5 277v1M169.5 277v1M170.5 278v1M171.5 278v1M172.5 279v1M173.5 279v1M174.5 280v1M175.5 280v1M176.5 281v1M177.5 281v1M178.5 281v1M179.5 281v1M180.5 281v1M181.5 281v1M182.5 280v1M183.5 280v1M184.5 280v1M185.5 280v1M186.5 280v1M187.5 280v1M188.5 280v1M189.5 279v1M190.5 279v1M191.5 279v1M192.5 279v1M193.5 278v1M194.5 278v1M195.5 278v1M196.5 277v1M197.5 277v1M198.5 276v1M199.5 276v1M200.5 276v1M201.5 274v2M202.5 273v1M203.5 272v1M204.5 270v2M205.5 269v1M206.5 268v1M207.5 266v2M208.5 265v1M209.5 263v2M210.5 261v2M211.5 260v1M212.5 258v2M213.5 257v1M214.5 255v2M215.5 254v1M216.5 253v1M217.5 251v2M218.5 250v1M219.5 248v2M220.5 247v1M221.5 245v2M222.5 243v2M223.5 242v1M224.5 240v2M225.5 238v2M226.5 237v1M227.5 235v2M228.5 233v2M229.5 232v1M230.5 230v2M231.5 228v2M232.5 227v1M233.5 226v1M234.5 224v2M235.5 222v2M236.5 221v1M237.5 220v1M238.5 219v1M239.5 218v1M240.5 217v1M241.5 216v1M242.5 215v1M243.5 214v1M244.5 213v1M245.5 212v1M246.5 210v2M247.5 209v1M248.5 208v1M249.5 206v2M250.5 205v1M251.5 204v1M252.5 202v2M253.5 201v1M254.5 200v1M255.5 198v2M256.5 197v1M257.5 196v1M258.5 194v2M259.5 193v1M260.5 192v1M261.5 191v1M262.5 190v1M263.5 189v1M264.5 188v1M265.5 187v1M266.5 186v1M267.5 184v2M268.5 182v2M269.5 180v2M270.5 178v2M271.5 176v2M272.5 174v2M273.5 172v2M274.5 170v2M275.5 168v2M276.5 166v2M277.5 164v2M278.5 162v2M279.5 160v2M280.5 159v1M281.5 157v2M282.5 155v2M283.5 154v1M284.5 153v1M285.5 152v1M286.5 152v1M287.5 151v1M288.5 151v1M289.5 151v1M290.5 150v1M291.5 150v1M292.5 150v1M293.5 150v1M294.5 150v1M295.5 148v2M296.5 147v1M297.5 146v1M298.5 145v1M299.5 144v1M300.5 143v1M301.5 142v1M302.5 141v1M303.5 140v1M304.5 139v1M305.5 138v1M306.5 137v1M307.5 136v1M308.5 135v1M309.5 134v1M310.5 134v1M311.5 133v1M312.5 132v1M313.5 131v1M314.5 131v1M315.5 130v1M316.5 129v1M317.5 129v1M318.5 128v1M319.5 128v1M320.5 128v1M321.5 127v1M322.5 127v1M323.5 127v1M324.5 127v1M325.5 127v1M326.5 127v1M327.5 127v1M328.5 128v1M329.5 128v1M330.5 128v1M331.5 128v1M332.5 129v1M333.5 129v1M334.5 130v1M335.5 130v1M336.5 131v1M337.5 132v1M338.5 133v1M339.5 134v1M340.5 135v1M341.5 136v1M342.5 137v1M343.5 138v1M344.5 139v1M345.5 140v1M346.5 141v2M347.5 143v1M348.5 144v1M349.5 145v2M350.5 147v2M351.5 149v2M352.5 151v2M353.5 153v2M354.5 155v2M355.5 157v2M356.5 159v3M357.5 162v2M358.5 164v2M359.5 166v3M360.5 169v2M361.5 171v2M362.5 173v1M363.5 174v2M364.5 176v2M365.5 178v1M366.5 179v2M367.5 181v1M368.5 182v1M369.5 183v1M370.5 184v1M371.5 185v2M372.5 187v1M373.5 188v2M374.5 190v2M375.5 192v2M376.5 194v2M377.5 196v2M378.5 198v2M379.5 200v3M380.5 203v3M381.5 206v3M382.5 209v2M383.5 211v2M384.5 213v3M385.5 216v2M386.5 218v2M387.5 220v2M388.5 222v2M389.5 224v2M390.5 226v2M391.5 228v2M392.5 230v3M393.5 233v2M394.5 235v2M395.5 237v2M396.5 239v2M397.5 241v1M398.5 242v2M399.5 244v2M400.5 246v2M401.5 248v2M402.5 250v1M403.5 251v2M404.5 253v2M405.5 255v1M406.5 256v2M407.5 258v1M408.5 259v1M409.5 260v1M410.5 261v1M411.5 262v1M412.5 263v1M413.5 264v1M414.5 265v1M415.5 266v1M416.5 267v1M417.5 268v1M418.5 269v2M419.5 271v1M420.5 272v1M421.5 273v1M422.5 274v2M423.5 276v1M424.5 277v1M425.5 278v2M426.5 280v1M427.5 281v2M428.5 283v2M429.5 285v2M430.5 287v2M431.5 289v2M432.5 291v2M433.5 293v2M434.5 295v2M435.5 297v2M436.5 299v2M437.5 301v2M438.5 303v2M439.5 305v3M440.5 308v2M441.5 310v2M442.5 312v2M443.5 314v2M444.5 316v3M445.5 319v1M446.5 320v2M447.5 322v2M448.5 324v1M449.5 325v2M450.5 327v2M451.5 329v2M452.5 331v2M453.5 333v2M454.5 335v1M455.5 336v2M456.5 338v1M457.5 339v2M458.5 341v2M459.5 342v1M460.5 343v1M461.5 343v1M462.5 344v1M463.5 344v1M464.5 345v1M465.5 346v1M466.5 346v1M467.5 347v1M468.5 348v1M469.5 348v1M470.5 349v1M471.5 350v1M472.5 351v2M473.5 353v1M474.5 354v1M475.5 355v2M476.5 357v1M477.5 358v1M478.5 359v1M479.5 360v1M480.5 361v1M481.5 362v1M482.5 362v1M483.5 363v1M484.5 364v1M485.5 364v1M486.5 365v1M487.5 365v1M488.5 365v1M489.5 365v1M490.5 364v1M491.5 364v1M492.5 364v1M493.5 364v1M494.5 364v1M495.5 363v1M496.5 363v1M497.5 362v1M498.5 362v1M499.5 361v1M500.5 361v1M501.5 360v1M502.5 360v1M503.5 359v1M504.5 359v1M505.5 358v1M506.5 357v1M507.5 355v2M508.5 354v1M509.5 353v1M510.5 352v1M511.5 350v2M512.5 349v1M513.5 347v2M514.5 345v2M515.5 344v1M516.5 342v2M517.5 340v2M518.5 338v2M519.5 336v2M520.5 334v2M521.5 332v2M522.5 330v2M523.5 328v2M524.5 326v2M525.5 324v2M526.5 322v2M527.5 320v2M528.5 318v2M529.5 317v1M530.5 315v2M531.5 313v2M532.5 311v2M533.5 310v1M534.5 308v2M535.5 306v2M536.5 305v1M537.5 303v2M538.5 301v2M539.5 300v1M540.5 298v2M541.5 297v1M542.5 295v2M543.5 294v1M544.5 292v2M545.5 291v1M546.5 289v2M547.5 287v2M548.5 286v1M549.5 284v2M550.5 282v2M551.5 280v2M552.5 278v2M553.5 276v2M554.5 274v2M555.5 271v3M556.5 269v2M557.5 268v1M558.5 266v2M559.5 264v2M560.5 263v1M561.5 261v2M562.5 260v1M563.5 259v1M564.5 258v1M565.5 257v1M566.5 256v1M567.5 255v1M568.5 253v2M569.5 252v1M570.5 251v1M571.5 249v2M572.5 248v1M573.5 247v1M574.5 247v1M575.5 246v1M576.5 246v1M577.5 245v1M578.5 245v1M579.5 244v1M580.5 244v1M581.5 243v1M582.5 242v1M583.5 242v1M584.5 241v1M585.5 241v1M586.5 241v1M587.5 240v1M588.5 240v1M589.5 240v1M590.5 240v1M591.5 240v1M592.5 240v1M593.5 240v1M594.5 241v1M595.5 241v1M596.5 241v1M597.5 241v1M598.5 241v1M599.5 240v1M600.5 240v1M601.5 240v1M602.5 240v1M603.5 239v1M604.5 238v1M605.5 237v1M606.5 237v1M607.5 236v1M608.5 235v1M609.5 235v1M610.5 234v1M611.5 234v1M612.5 234v1M613.5 234v1M614.5 234v1M615.5 234v1M616.5 234v1M617.5 234v1M618.5 234v1M619.5 235v1M620.5 235v1M621.5 235v1M622.5 235v1M623.5 236v1M624.5 236v1M625.5 236v1M626.5 236v1M627.5 236v1M628.5 236v1M629.5 236v1M630.5 236v1M631.5 236v1M632.5 236v1M633.5 236v1M634.5 237v1M635.5 237v1M636.5 238v1M637.5 238v1M638.5 238v1M639.5 238v1M640.5 238v1M641.5 238v1M642.5 238v1M643.5 238v1M644.5 237v1M645.5 237v1M646.5 237v1M647.5 237v1M648.5 236v1M649.5 236v1M650.5 236v1M651.5 236v1M652.5 236v1M653.5 236v1M654.5 236v1M655.5 236v1M656.5 236v1M657.5 236v1M658.5 236v1M659.5 236v1M660.5 236v1M661.5 236v1M662.5 236v1M663.5 236v1M664.5 236v1M665.5 236v1M666.5 236v1M667.5 236v1M668.5 236v1M669.5 235v1M670.5 235v1M671.5 235v1M672.5 235v1M673.5 234v1M674.5 234v1M675.5 233v1M676.5 232v1M677.5 232v1M678.5 231v1M679.5 231v1M680.5 231v1M681.5 230v1M682.5 230v1M683.5 230v1M684.5 230v1M685.5 231v1M686.5 231v1M687.5 232v1M688.5 233v1M689.5 233v1M690.5 234v1M691.5 234v1M692.5 235v1M693.5 235v1M694.5 236v1M695.5 236v1M696.5 236v1M697.5 236v1M698.5 236v1M699.5 236v1M700.5 236v1M701.5 236v1M702.5 236v1M703.5 236v1M704.5 236v1M705.5 236v1M706.5 236v1M707.5 236v1M708.5 236v1M709.5 237v1M710.5 237v1M711.5 237v1M712.5 238v1M713.5 238v1M714.5 238v1M715.5 239v1M716.5 239v1M717.5 240v1M718.5 240v1M719.5 240v1M720.5 241v1M721.5 241v1M722.5 242v1M723.5 242v1M724.5 243v1M725.5 243v1M726.5 244v1M727.5 244v1M728.5 245v1M729.5 245v1M730.5 246v1M731.5 246v1M732.5 247v1M733.5 247v1M734.5 248v1M735.5 249v1M736.5 249v1M737.5 250v1M738.5 250v1M739.5 251v1M740.5 251v1M741.5 252v1M742.5 252v1M743.5 253v1M744.5 254v1M745.5 254v1M746.5 255v1M747.5 256v1M748.5 257v1M749.5 258v1M750.5 259v1M751.5 260v1M752.5 261v1M753.5 262v1M754.5 262v1M755.5 263v1M756.5 264v1M757.5 265v1M758.5 266v1M759.5 267v1M760.5 267v1M761.5 268v1M762.5 269v1M763.5 269v1M764.5 269v1M765.5 269v1M766.5 269v1M767.5 269v1M768.5 269v1M769.5 269v1M770.5 269v1M771.5 269v1M772.5 269v1M773.5 269v1M774.5 269v1M775.5 269v1M776.5 269v1M777.5 269v1M778.5 270v1M779.5 270v1M780.5 270v1M781.5 270v1M782.5 270v1M783.5 270v1M784.5 269v1M785.5 269v1M786.5 269v1M787.5 269v1M788.5 269v1M789.5 269v1M790.5 269v1M791.5 269v1M792.5 269v1M793.5 269v1M794.5 269v1M795.5 269v1M796.5 269v1M797.5 269v1M798.5 269v1M799.5 269v1M800.5 269v1M801.5 269v1M802.5 269v1M803.5 269v1M804.5 269v1M805.5 269v1M806.5 270v1M807.5 270v1M808.5 270v1M809.5 270v1M810.5 270v1M811.5 270v1M812.5 270v1M813.5 270v1M814.5 270v1M815.5 270v1M816.5 270v1M817.5 270v1M818.5 270v1M819.5 270v1M820.5 270v1M821.5 270v1M822.5 270v1M823.5 270v1M824.5 270v1M825.5 270v1M826.5 270v1M827.5 270v1M828.5 270v1M829.5 270v1M830.5 269v1M831.5 269v1M832.5 269v1M833.5 269v1M834.5 268v1M835.5 269v1M836.5 269v1M837.5 269v1M838.5 269v1M839.5 270v1M840.5 270v1M841.5 271v1M842.5 272v1M843.5 273v1M844.5 274v1M845.5 275v2M846.5 277v2M847.5 279v2M848.5 281v2M849.5 283v2M850.5 285v2M851.5 287v2M852.5 289v2M853.5 291v1M854.5 292v2M855.5 294v1M856.5 295v1M857.5 296v2M858.5 298v1M859.5 299v2M860.5 301v1M861.5 302v2M862.5 304v2M863.5 306v1M864.5 307v2M865.5 309v1M866.5 310v2M867.5 312v1M868.5 313v2M869.5 315v1M870.5 316v2M871.5 318v2M872.5 320v2M873.5 322v3M874.5 325v2M875.5 327v1M876.5 328v1M877.5 329v1M878.5 330v1M879.5 330v1M880.5 331v1M881.5 331v1M882.5 332v1M883.5 333v1M884.5 334v1M885.5 334v1M886.5 335v1M887.5 336v1M888.5 337v1M889.5 338v1M890.5 339v1M891.5 340v1M892.5 341v2M893.5 343v1M894.5 344v1M895.5 345v1M896.5 346v1M897.5 347v1M898.5 348v1M899.5 349v2M900.5 351v1M901.5 352v1M902.5 353v1M903.5 354v2M904.5 356v1M905.5 357v1M906.5 358v2M907.5 360v1M908.5 361v1M909.5 362v2M910.5 364v1M911.5 365v1M912.5 366v2M913.5 368v1M914.5 368v1M915.5 369v1M916.5 370v1M917.5 371v1M918.5 372v1M919.5 373v1M920.5 373v1M921.5 374v1M922.5 375v1M923.5 376v1" fill="none" stroke="#0000cd" stroke-width="1"/>
<path d="M4.5 158v1M5.5 157v1M6.5 156v1M7.5 155v1M8.5 154v1M9.5 154v1M10.5 153v1M11.5 153v1M12.5 153v1M13.5 152v1M14.5 152v1M15.5 153v1M16.5 154v1M17.5 155v1M18.5 156v1M19.5 157v1M20.5 158v1M21.5 159v1M22.5 160v2M23.5 162v1M24.5 163v1M25.5 164v2M26.5 166v1M27.5 167v3M28.5 170v3M29.5 173v3M30.5 176v3M31.5 179v2M32.5 181v2M33.5 183v2M34.5 185v2M35.5 187v2M36.5 189v2M37.5 191v2M38.5 193v1M39.5 194v2M40.5 196v2M41.5 198v1M42.5 199v2M43.5 201v1M44.5 202v2M45.5 204v1M46.5 205v1M47.5 206v2M48.5 208v1M49.5 209v3M50.5 212v2M51.5 214v3M52.5 217v3M53.5 220v2M54.5 222v3M55.5 225v2M56.5 227v2M57.5 229v2M58.5 231v2M59.5 233v2M60.5 235v2M61.5 237v1M62.5 238v1M63.5 239v2M64.5 241v1M65.5 242v1M66.5 243v2M67.5 245v1M68.5 245v1M69.5 246v1M70.5 247v1M71.5 248v1M72.5 249v1M73.5 250v1M74.5 250v1M75.5 251v1M76.5 252v1M77.5 253v1M78.5 253v1M79.5 254v1M80.5 255v1M81.5 254v1M82.5 252v2M83.5 251v1M84.5 250v1M85.5 249v1M86.5 248v1M87.5 247v1M88.5 246v1M89.5 245v1M90.5 244v1M91.5 243v1M92.5 242v1M93.5 242v1M94.5 241v1M95.5 240v1M96.5 240v1M97.5 240v1M98.5 239v1M99.5 239v1M100.5 239v1M101.5 239v1M102.5 238v1M103.5 238v1M104.5 238v1M105.5 238v1M106.5 237v1M107.5 237v1M108.5 237v1M109.5 237v1M110.5 237v1M111.5 237v1M112.5 237v1M113.5 238v1M114.5 238v1M115.5 238v1M116.5 239v1M117.5 239v1M118.5 239v1M119.5 240v1M120.5 240v1M121.5 241v1M122.5 242v1M123.5 243v2M124.5 245v1M125.5 246v1M126.5 247v1M127.5 248v1M128.5 249v1M129.5 250v1M130.5 251v1M131.5 252v1M132.5 253v2M133.5 255v1M134.5 256v1M135.5 257v2M136.5 259v2M137.5 261v2M138.5 263v2M139.5 265v2M140.5 267v2M141.5 269v2M142.5 271v3M143.5 274v2M144.5 276v2M145.5 278v3M146.5 281v2M147.5 283v2M148.5 285v1M149.5 286v2M150.5 288v2M151.5 290v1M152.5 291v2M153.5 293v1M154.5 293v1M155.5 294v1M156.5 295v1M157.5 295v1M158.5 295v1M159.5 295v1M160.5 295v1M161.5 295v1M162.5 295v1M163.5 295v1M164.5 295v1M165.5 295v1M166.5 295v1M167.5 295v1M168.5 295v1M169.5 295v1M170.5 295v1M171.5 296v1M172.5 296v1M173.5 296v1M174.5 297v1M175.5 297v1M176.5 297v1M177.5 296v1M178.5 295v1M179.5 294v1M180.5 293v1M181.5 292v1M182.5 291v1M183.5 289v2M184.5 288v1M185.5 287v1M186.5 286v1M187.5 284v2M188.5 283v1M189.5 281v2M190.5 280v1M191.5 278v2M192.5 277v1M193.5 275v2M194.5 273v2M195.5 270v3M196.5 268v2M197.5 266v2M198.5 264v2M199.5 261v3M200.5 257v4M201.5 254v3M202.5 251v3M203.5 247v4M204.5 243v4M205.5 240v3M206.5 236v4M207.5 233v3M208.5 231v2M209.5 228v3M210.5 226v2M211.5 225v1M212.5 224v1M213.5 222v2M214.5 221v1M215.5 220v1M216.5 220v1M217.5 220v1M218.5 219v1M219.5 218v1M220.5 217v1M221.5 216v1M222.5 215v1M223.5 214v1M224.5 213v1M225.5 212v1M226.5 210v2M227.5 209v1M228.5 208v1M229.5 206v2M230.5 205v1M231.5 205v1M232.5 204v1M233.5 204v1M234.5 203v1M235.5 203v1M236.5 203v1M237.5 202v1M238.5 202v1M239.5 201v1M240.5 200v1M241.5 199v1M242.5 198v1M243.5 197v1M244.5 196v1M245.5 194v2M246.5 193v1M247.5 192v1M248.5 190v2M249.5 189v1M250.5 188v1M251.5 187v1M252.5 186v1M253.5 184v2M254.5 183v1M255.5 182v1M256.5 181v1M257.5 180v1M258.5 179v1M259.5 179v1M260.5 178v1M261.5 178v1M262.5 178v1M263.5 179v1M264.5 179v1M265.5 177v2M266.5 174v3M267.5 172v2M268.5 170v2M269.5 168v2M270.5 165v3M271.5 163v2M272.5 161v2M273.5 158v3M274.5 156v2M275.5 154v2M276.5 152v2M277.5 150v2M278.5 148v2M279.5 146v2M280.5 144v2M281.5 142v2M282.5 141v1M283.5 139v2M284.5 138v1M285.5 136v2M286.5 135v1M287.5 134v1M288.5 132v2M289.5 131v1M290.5 130v1M291.5 128v2M292.5 127v1M293.5 125v2M294.5 123v2M295.5 121v2M296.5 120v1M297.5 118v2M298.5 116v2M299.5 115v1M300.5 114v1M301.5 112v2M302.5 111v1M303.5 110v1M304.5 109v1M305.5 109v1M306.5 109v1M307.5 108v1M308.5 108v1M309.5 108v1M310.5 108v1M311.5 108v1M312.5 108v1M313.5 108v1M314.5 109v1M315.5 109v1M316.5 109v1M317.5 110v1M318.5 110v1M319.5 111v1M320.5 112v1M321.5 113v2M322.5 115v2M323.5 117v2M324.5 119v2M325.5 121v2M326.5 123v2M327.5 125v2M328.5 127v2M329.5 129v3M330.5 132v2M331.5 134v2M332.5 136v2M333.5 138v3M334.5 141v3M335.5 144v3M336.5 147v3M337.5 150v2M338.5 152v1M339.5 153v2M340.5 155v1M341.5 156v2M342.5 158v1M343.5 159v2M344.5 161v2M345.5 163v1M346.5 164v2M347.5 166v2M348.5 168v2M349.5 170v1M350.5 171v2M351.5 173v3M352.5 176v3M353.5 179v2M354.5 181v3M355.5 184v3M356.5 187v3M357.5 190v3M358.5 193v3M359.5 196v3M360.5 199v3M361.5 202v1M362.5 203v2M363.5 205v2M364.5 207v2M365.5 209v2M366.5 211v2M367.5 213v1M368.5 214v2M369.5 216v1M370.5 217v2M371.5 219v1M372.5 220v2M373.5 222v2M374.5 224v2M375.5 226v1M376.5 227v2M377.5 229v2M378.5 231v2M379.5 233v2M380.5 235v3M381.5 238v3M382.5 241v2M383.5 243v3M384.5 246v2M385.5 248v2M386.5 250v2M387.5 252v2M388.5 254v2M389.5 256v1M390.5 257v1M391.5 258v1M392.5 259v2M393.5 261v1M394.5 262v1M395.5 263v1M396.5 264v1M397.5 265v1M398.5 266v2M399.5 268v1M400.5 269v1M401.5 270v1M402.5 271v1M403.5 272v1M404.5 273v1M405.5 274v2M406.5 276v1M407.5 277v1M408.5 278v1M409.5 279v1M410.5 280v1M411.5 281v1M412.5 282v1M413.5 283v1M414.5 284v1M415.5 285v1M416.5 286v1M417.5 287v1M418.5 288v1M419.5 289v1M420.5 290v1M421.5 291v2M422.5 293v2M423.5 295v2M424.5 297v2M425.5 299v3M426.5 302v2M427.5 304v2M428.5 306v3M429.5 309v2M430.5 311v2M431.5 313v2M432.5 315v1M433.5 316v2M434.5 318v2M435.5 320v1M436.5 321v2M437.5 323v2M438.5 325v1M439.5 326v2M440.5 328v2M441.5 330v1M442.5 331v2M443.5 333v2M444.5 335v3M445.5 338v2M446.5 340v2M447.5 342v3M448.5 345v2M449.5 347v1M450.5 348v2M451.5 350v1M452.5 351v2M453.5 353v1M454.5 354v2M455.5 356v1M456.5 357v2M457.5 359v1M458.5 360v2M459.5 362v1M460.5 363v2M461.5 365v1M462.5 366v1M463.5 367v1M464.5 368v2M465.5 370v1M466.5 371v1M467.5 372v1M468.5 373v2M469.5 375v1M470.5 376v1M471.5 377v2M472.5 379v1M473.5 380v1M474.5 381v1M475.5 382v1M476.5 383v2M477.5 385v1M478.5 385v1M479.5 385v1M480.5 386v1M481.5 386v1M482.5 386v1M483.5 386v1M484.5 386v1M485.5 385v1M486.5 385v1M487.5 383v2M488.5 382v1M489.5 380v2M490.5 379v1M491.5 376v3M492.5 373v3M493.5 371v2M494.5 368v3M495.5 365v3M496.5 363v2M497.5 360v3M498.5 358v2M499.5 355v3M500.5 353v2M501.5 350v3M502.5 348v2M503.5 345v3M504.5 343v2M505.5 340v3M506.5 338v2M507.5 335v3M508.5 333v2M509.5 330v3M510.5 328v2M511.5 325v3M512.5 322v3M513.5 319v3M514.5 316v3M515.5 314v2M516.5 312v2M517.5 310v2M518.5 308v2M519.5 306v2M520.5 304v2M521.5 303v1M522.5 301v2M523.5 299v2M524.5 297v2M525.5 294v3M526.5 292v2M527.5 290v2M528.5 287v3M529.5 285v2M530.5 282v3M531.5 280v2M532.5 277v3M533.5 275v2M534.5 272v3M535.5 270v2M536.5 267v3M537.5 266v1M538.5 264v2M539.5 263v1M540.5 262v1M541.5 261v1M542.5 260v1M543.5 259v1M544.5 258v1M545.5 257v1M546.5 255v2M547.5 254v1M548.5 252v2M549.5 251v1M550.5 250v1M551.5 249v1M552.5 248v1M553.5 247v1M554.5 246v1M555.5 245v1M556.5 245v1M557.5 244v1M558.5 243v1M559.5 243v1M560.5 243v1M561.5 243v1M562.5 243v1M563.5 243v1M564.5 243v1M565.5 243v1M566.5 243v1M567.5 243v1M568.5 243v1M569.5 243v1M570.5 244v1M571.5 244v1M572.5 244v1M573.5 244v1M574.5 244v1M575.5 243v1M576.5 243v1M577.5 243v1M578.5 243v1M579.5 242v1M580.5 240v2M581.5 239v1M582.5 238v1M583.5 238v1M584.5 237v1M585.5 237v1M586.5 236v1M587.5 236v1M588.5 236v1M589.5 236v1M590.5 236v1M591.5 236v1M592.5 236v1M593.5 236v1M594.5 236v1M595.5 236v1M596.5 236v1M597.5 236v1M598.5 236v1M599.5 236v1M600.5 235v1M601.5 235v1M602.5 235v1M603.5 234v1M604.5 234v1M605.5 233v1M606.5 232v1M607.5 231v1M608.5 230v1M609.5 230v1M610.5 230v1M611.5 231v1M612.5 231v1M613.5 231v1M614.5 232v1M615.5 232v1M616.5 233v1M617.5 233v1M618.5 234v1M619.5 234v1M620.5 235v1M621.5 235v1M622.5 235v1M623.5 235v1M624.5 236v1M625.5 236v1M626.5 236v1M627.5 236v1M628.5 236v1M629.5 236v1M630.5 236v1M631.5 236v1M632.5 236v1M633.5 236v1M634.5 237v1M635.5 237v1M636.5 237v1M637.5 238v1M638.5 238v1M639.5 238v1M640.5 238v1M641.5 238v1M642.5 238v1M643.5 237v1M644.5 237v1M645.5 237v1M646.5 236v1M647.5 236v1M648.5 236v1M649.5 236v1M650.5 236v1M651.5 236v1M652.5 236v1M653.5 236v1M654.5 236v1M655.5 236v1M656.5 237v1M657.5 237v1M658.5 238v1M659.5 239v1M660.5 240v1M661.5 241v1M662.5 241v1M663.5 242v1M664.5 242v1M665.5 241v1M666.5 241v1M667.5 240v1M668.5 240v1M669.5 239v1M670.5 238v1M671.5 238v1M672.5 237v1M673.5 236v1M674.5 236v1M675.5 235v1M676.5 234v1M677.5 233v1M678.5 232v1M679.5 232v1M680.5 231v1M681.5 230v1M682.5 230v1M683.5 229v1M684.5 229v1M685.5 228v1M686.5 228v1M687.5 228v1M688.5 227v1M689.5 227v1M690.5 227v1M691.5 227v1M692.5 226v1M693.5 226v1M694.5 226v1M695.5 227v1M696.5 227v1M697.5 227v1M698.5 227v1M699.5 228v1M700.5 228v1M701.5 229v1M702.5 230v1M703.5 230v1M704.5 231v1M705.5 232v1M706.5 232v1M707.5 233v1M708.5 234v1M709.5 234v1M710.5 235v1M711.5 236v1M712.5 237v1M713.5 237v1M714.5 238v1M715.5 239v1M716.5 240v1M717.5 241v1M718.5 242v2M719.5 244v1M720.5 245v1M721.5 246v2M722.5 248v1M723.5 249v1M724.5 250v1M725.5 251v1M726.5 252v1M727.5 253v1M728.5 254v1M729.5 255v1M730.5 256v1M731.5 256v1M732.5 257v1M733.5 258v1M734.5 259v1M735.5 260v1M736.5 261v2M737.5 263v1M738.5 264v2M739.5 266v1M740.5 267v2M741.5 269v1M742.5 270v1M743.5 271v1M744.5 272v1M745.5 273v1M746.5 274v1M747.5 275v1M748.5 276v1M749.5 277v1M750.5 278v2M751.5 280v1M752.5 281v1M753.5 281v1M754.5 281v1M755.5 281v1M756.5 282v1M757.5 282v1M758.5 282v1M759.5 281v1M760.5 281v1M761.5 280v1M762.5 280v1M763.5 279v1M764.5 278v1M765.5 277v1M766.5 277v1M767.5 276v1M768.5 275v1M769.5 274v1M770.5 274v1M771.5 273v1M772.5 272v1M773.5 272v1M774.5 271v1M775.5 270v1M776.5 270v1M777.5 269v1M778.5 269v1M779.5 268v1M780.5 268v1M781.5 268v1M782.5 267v1M783.5 267v1M784.5 267v1M785.5 266v1M786.5 266v1M787.5 266v1M788.5 265v1M789.5 265v1M790.5 265v1M791.5 264v1M792.5 264v1M793.5 264v1M794.5 264v1M795.5 263v1M796.5 263v1M797.5 263v1M798.5 263v1M799.5 263v1M800.5 262v1M801.5 262v1M802.5 261v1M803.5 261v1M804.5 260v1M805.5 260v1M806.5 260v1M807.5 260v1M808.5 259v1M809.5 259v1M810.5 259v1M811.5 259v1M812.5 260v1M813.5 260v1M814.5 260v1M815.5 261v1M816.5 262v1M817.5 262v1M818.5 263v1M819.5 264v1M820.5 265v1M821.5 266v1M822.5 267v1M823.5 268v1M824.5 268v1M825.5 269v1M826.5 270v1M827.5 271v1M828.5 271v1M829.5 272v1M830.5 273v1M831.5 273v1M832.5 274v1M833.5 275v1M834.5 276v1M835.5 277v1M836.5 278v1M837.5 279v1M838.5 280v1M839.5 281v1M840.5 282v2M841.5 284v1M842.5 285v1M843.5 286v2M844.5 288v1M845.5 289v2M846.5 291v3M847.5 294v2M848.5 296v3M849.5 299v1M850.5 300v2M851.5 302v1M852.5 303v2M853.5 305v1M854.5 306v2M855.5 308v2M856.5 310v2M857.5 312v2M858.5 314v3M859.5 317v2M860.5 319v2M861.5 321v2M862.5 323v2M863.5 325v2M864.5 327v2M865.5 329v2M866.5 331v2M867.5 333v2M868.5 335v1M869.5 336v2M870.5 338v2M871.5 340v1M872.5 341v2M873.5 343v1M874.5 344v2M875.5 346v1M876.5 347v1M877.5 348v1M878.5 349v2M879.5 351v2M880.5 353v2M881.5 355v2M882.5 357v2M883.5 358v1M884.5 359v1M885.5 360v1M886.5 360v1M887.5 361v1M888.5 362v1M889.5 363v2M890.5 365v1M891.5 366v2M892.5 368v2M893.5 370v2M894.5 372v2M895.5 373v1M896.5 374v1M897.5 374v1M898.5 375v1M899.5 375v1M900.5 376v1M901.5 376v1M902.5 376v1M903.5 376v1M904.5 376v1M905.5 376v1M906.5 376v1M907.5 376v1M908.5 377v1M909.5 377v1M910.5 377v1M911.5 378v1M912.5 378v1M913.5 377v1M914.5 377v1M915.5 377v1M916.5 376v1M917.5 376v1M918.5 376v1M919.5 376v1M920.5 376v1M921.5 376v1M922.5 375v1" fill="none" stroke="#ff0000" stroke-width="1"/>
<rect x="3" y="491" width="2" height="26" fill="#c0c0c0" />
<rect x="6" y="491" width="3" height="26" fill="#c0c0c0" />
<rect x="10" y="491" width="3" height="23" fill="#c0c0c0" />
<rect x="14" y="491" width="3" height="23" fill="#c0c0c0" />
<rect x="18" y="491" width="3" height="24" fill="#c0c0c0" />
<rect x="22" y="491" width="3" height="25" fill="#c0c0c0" />
<rect x="26" y="491" width="3" height="30" fill="#c0c0c0" />
<rect x="30" y="491" width="3" height="35" fill="#c0c0c0" />
<rect x="34" y="491" width="3" height="38" fill="#c0c0c0" />
<rect x="38" y="491" width="3" height="38" fill="#c0c0c0" />
<rect x="42" y="491" width="3" height="37" fill="#c0c0c0" />
<rect x="46" y="491" width="3" height="36" fill="#c0c0c0" />
<rect x="50" y="491" width="3" height="37" fill="#c0c0c0" />
<rect x="54" y="491" width="3" height="35" fill="#c0c0c0" />
<rect x="58" y="491" width="3" height="33" fill="#c0c0c0" />
<rect x="62" y="491" width="3" height="30" fill="#c0c0c0" />
<rect x="66" y="491" width="3" height="26" fill="#c0c0c0" />
<rect x="70" y="491" width="3" height="24" fill="#c0c0c0" />
<rect x="74" y="491" width="3" height="23" fill="#c0c0c0" />
<rect x="78" y="491" width="3" height="22" fill="#c0c0c0" />
<rect x="82" y="491" width="3" height="19" fill="#c0c0c0" />
<rect x="86" y="491" width="3" height="17" fill="#c0c0c0" />
<rect x="90" y="491" width="3" height="15" fill="#c0c0c0" />
<rect x="94" y="491" width="3" height="12" fill="#c0c0c0" />
<rect x="98" y="491" width="3" height="13" fill="#c0c0c0" />
<rect x="102" y="491" width="3" height="15" fill="#c0c0c0" />
<rect x="106" y="491" width="3" height="14" fill="#c0c0c0" />
<rect x="110" y="491" width="3" height="14" fill="#c0c0c0" />
<rect x="114" y="491" width="3" height="13" fill="#c0c0c0" />
<rect x="118" y="491" width="3" height="14" fill="#c0c0c0" />
<rect x="122" y="491" width="3" height="14" fill="#c0c0c0" />
<rect x="126" y="491" width="3" height="16" fill="#c0c0c0" />
<rect x="130" y="491" width="3" height="20" fill="#c0c0c0" />
<rect x="134" y="491" width="3" height="21" fill="#c0c0c0" />
<rect x="138" y="491" width="3" height="22" fill="#c0c0c0" />
<rect x="142" y="491" width="3" height="24" fill="#c0c0c0" />
<rect x="146" y="491" width="3" height="27" fill="#c0c0c0" />
<rect x="150" y="491" width="3" height="25" fill="#c0c0c0" />
<rect x="154" y="491" width="3" height="24" fill="#c0c0c0" />
<rect x="158" y="491" width="3" height="21" fill="#c0c0c0" />
<rect x="162" y="491" width="3" height="16" fill="#c0c0c0" />
<rect x="166" y="491" width="3" height="13" fill="#c0c0c0" />
<rect x="170" y="491" width="3" height="11" fill="#c0c0c0" />
<rect x="174" y="491" width="3" height="10" fill="#c0c0c0" />
<rect x="178" y="491" width="3" height="4" fill="#c0c0c0" />
<rect x="182" y="491" width="3" height="1" fill="#c0c0c0" />
<rect x="186" y="490" width="3" height="1" fill="#c0c0c0" />
<rect x="190" y="489" width="3" height="2" fill="#c0c0c0" />
<rect x="194" y="487" width="3" height="4" fill="#c0c0c0" />
<rect x="198" y="485" width="3" height="6" fill="#c0c0c0" />
<rect x="202" y="481" width="3" height="10" fill="#c0c0c0" />
<rect x="206" y="474" width="3" height="17" fill="#c0c0c0" />
<rect x="210" y="472" width="3" height="19" fill="#c0c0c0" />
<rect x="214" y="472" width="3" height="19" fill="#c0c0c0" />
<rect x="218" y="475" width="3" height="16" fill="#c0c0c0" />
<rect x="222" y="476" width="3" height="15" fill="#c0c0c0" />
<rect x="226" y="476" width="3" height="15" fill="#c0c0c0" />
<rect x="230" y="477" width="3" height="14" fill="#c0c0c0" />
<rect x="234" y="478" width="3" height="13" fill="#c0c0c0" />
<rect x="238" y="478" width="3" height="13" fill="#c0c0c0" />
<rect x="242" y="477" width="3" height="14" fill="#c0c0c0" />
<rect x="246" y="477" width="3" height="14" fill="#c0c0c0" />
<rect x="250" y="476" width="3" height="15" fill="#c0c0c0" />
<rect x="254" y="474" width="3" height="17" fill="#c0c0c0" />
<rect x="258" y="471" width="3" height="20" fill="#c0c0c0" />
<rect x="262" y="470" width="3" height="21" fill="#c0c0c0" />
<rect x="266" y="465" width="3" height="26" fill="#c0c0c0" />
<rect x="270" y="462" width="3" height="29" fill="#c0c0c0" />
<rect x="274" y="461" width="3" height="30" fill="#c0c0c0" />
<rect x="278" y="460" width="3" height="31" fill="#c0c0c0" />
<rect x="282" y="461" width="3" height="30" fill="#c0c0c0" />
<rect x="286" y="464" width="3" height="27" fill="#c0c0c0" />
<rect x="290" y="465" width="3" height="26" fill="#c0c0c0" />
<rect x="294" y="466" width="3" height="25" fill="#c0c0c0" />
<rect x="298" y="466" width="3" height="25" fill="#c0c0c0" />
<rect x="302" y="468" width="3" height="23" fill="#c0c0c0" />
<rect x="306" y="470" width="3" height="21" fill="#c0c0c0" />
<rect x="310" y="474" width="3" height="17" fill="#c0c0c0" />
<rect x="314" y="477" width="3" height="14" fill="#c0c0c0" />
<rect x="318" y="479" width="3" height="12" fill="#c0c0c0" />
<rect x="322" y="484" width="3" height="7" fill="#c0c0c0" />
<rect x="326" y="488" width="3" height="3" fill="#c0c0c0" />
<rect x="330" y="491" width="3" height="1" fill="#c0c0c0" />
<rect x="334" y="491" width="3" height="5" fill="#c0c0c0" />
<rect x="338" y="491" width="3" height="8" fill="#c0c0c0" />
<rect x="342" y="491" width="3" height="12" fill="#c0c0c0" />
<rect x="346" y="491" width="3" height="13" fill="#c0c0c0" />
<rect x="350" y="491" width="3" height="16" fill="#c0c0c0" />
<rect x="354" y="491" width="3" height="18" fill="#c0c0c0" />
<rect x="358" y="491" width="3" height="19" fill="#c0c0c0" />
<rect x="362" y="491" width="3" height="20" fill="#c0c0c0" />
<rect x="366" y="491" width="3" height="19" fill="#c0c0c0" />
<rect x="370" y="491" width="3" height="17" fill="#c0c0c0" />
<rect x="374" y="491" width="3" height="19" fill="#c0c0c0" />
<rect x="378" y="491" width="3" height="24" fill="#c0c0c0" />
<rect x="382" y="491" width="3" height="28" fill="#c0c0c0" />
<rect x="386" y="491" width="3" height="30" fill="#c0c0c0" />
<rect x="390" y="491" width="3" height="28" fill="#c0c0c0" />
<rect x="394" y="491" width="3" height="27" fill="#c0c0c0" />
<rect x="398" y="491" width="3" height="27" fill="#c0c0c0" />
<rect x="402" y="491" width="3" height="26" fill="#c0c0c0" />
<rect x="406" y="491" width="3" height="28" fill="#c0c0c0" />
<rect x="410" y="491" width="3" height="27" fill="#c0c0c0" />
<rect x="414" y="491" width="3" height="27" fill="#c0c0c0" />
<rect x="418" y="491" width="3" height="26" fill="#c0c0c0" />
<rect x="422" y="491" width="3" height="27" fill="#c0c0c0" />
<rect x="426" y="491" width="3" height="28" fill="#c0c0c0" />
<rect x="430" y="491" width="3" height="31" fill="#c0c0c0" />
<rect x="434" y="491" width="3" height="34" fill="#c0c0c0" />
<rect x="438" y="491" width="3" height="37" fill="#c0c0c0" />
<rect x="442" y="491" width="3" height="39" fill="#c0c0c0" />
<rect x="446" y="491" width="3" height="39" fill="#c0c0c0" />
<rect x="450" y="491" width="3" height="38" fill="#c0c0c0" />
<rect x="454" y="491" width="3" height="35" fill="#c0c0c0" />
<rect x="458" y="491" width="3" height="33" fill="#c0c0c0" />
<rect x="462" y="491" width="3" height="32" fill="#c0c0c0" />
<rect x="466" y="491" width="3" height="29" fill="#c0c0c0" />
<rect x="470" y="491" width="3" height="28" fill="#c0c0c0" />
<rect x="474" y="491" width="3" height="27" fill="#c0c0c0" />
<rect x="478" y="491" width="3" height="25" fill="#c0c0c0" />
<rect x="482" y="491" width="3" height="21" fill="#c0c0c0" />
<rect x="486" y="491" width="3" height="19" fill="#c0c0c0" />
<rect x="490" y="491" width="3" height="13" fill="#c0c0c0" />
<rect x="494" y="491" width="3" height="7" fill="#c0c0c0" />
<rect x="498" y="491" width="3" height="2" fill="#c0c0c0" />
<rect x="502" y="486" width="3" height="5" fill="#c0c0c0" />
<rect x="506" y="482" width="3" height="9" fill="#c0c0c0" />
<rect x="510" y="478" width="3" height="13" fill="#c0c0c0" />
<rect x="514" y="475" width="3" height="16" fill="#c0c0c0" />
<rect x="518" y="475" width="3" height="16" fill="#c0c0c0" />
<rect x="522" y="475" width="3" height="16" fill="#c0c0c0" />
<rect x="526" y="474" width="3" height="17" fill="#c0c0c0" />
<rect x="530" y="474" width="3" height="17" fill="#c0c0c0" />
<rect x="534" y="473" width="3" height="18" fill="#c0c0c0" />
<rect x="538" y="473" width="3" height="18" fill="#c0c0c0" />
<rect x="542" y="474" width="3" height="17" fill="#c0c0c0" />
<rect x="546" y="473" width="3" height="18" fill="#c0c0c0" />
<rect x="550" y="473" width="3" height="18" fill="#c0c0c0" />
<rect x="554" y="472" width="3" height="19" fill="#c0c0c0" />
<rect x="558" y="472" width="3" height="19" fill="#c0c0c0" />
<rect x="562" y="473" width="3" height="18" fill="#c0c0c0" />
<rect x="566" y="474" width="3" height="17" fill="#c0c0c0" />
<rect x="570" y="475" width="3" height="16" fill="#c0c0c0" />
<rect x="574" y="477" width="3" height="14" fill="#c0c0c0" />
<rect x="578" y="478" width="3" height="13" fill="#c0c0c0" />
<rect x="582" y="476" width="3" height="15" fill="#c0c0c0" />
<rect x="586" y="476" width="3" height="15" fill="#c0c0c0" />
<rect x="590" y="479" width="3" height="12" fill="#c0c0c0" />
<rect x="594" y="480" width="3" height="11" fill="#c0c0c0" />
<rect x="598" y="480" width="3" height="11" fill="#c0c0c0" />
<rect x="602" y="479" width="3" height="12" fill="#c0c0c0" />
<rect x="606" y="476" width="3" height="15" fill="#c0c0c0" />
<rect x="610" y="477" width="3" height="14" fill="#c0c0c0" />
<rect x="614" y="480" width="3" height="11" fill="#c0c0c0" />
<rect x="618" y="483" width="3" height="8" fill="#c0c0c0" />
<rect x="622" y="485" width="3" height="6" fill="#c0c0c0" />
<rect x="626" y="486" width="3" height="5" fill="#c0c0c0" />
<rect x="630" y="488" width="3" height="3" fill="#c0c0c0" />
<rect x="634" y="489" width="3" height="2" fill="#c0c0c0" />
<rect x="638" y="488" width="3" height="3" fill="#c0c0c0" />
<rect x="642" y="487" width="3" height="4" fill="#c0c0c0" />
<rect x="646" y="486" width="3" height="5" fill="#c0c0c0" />
<rect x="650" y="487" width="3" height="4" fill="#c0c0c0" />
<rect x="654" y="486" width="3" height="5" fill="#c0c0c0" />
<rect x="658" y="487" width="3" height="4" fill="#c0c0c0" />
<rect x="662" y="487" width="3" height="4" fill="#c0c0c0" />
<rect x="666" y="486" width="3" height="5" fill="#c0c0c0" />
<rect x="670" y="485" width="3" height="6" fill="#c0c0c0" />
<rect x="674" y="484" width="3" height="7" fill="#c0c0c0" />
<rect x="678" y="482" width="3" height="9" fill="#c0c0c0" />
<rect x="682" y="484" width="3" height="7" fill="#c0c0c0" />
<rect x="686" y="486" width="3" height="5" fill="#c0c0c0" />
<rect x="690" y="487" width="3" height="4" fill="#c0c0c0" />
<rect x="694" y="487" width="3" height="4" fill="#c0c0c0" />
<rect x="698" y="490" width="3" height="1" fill="#c0c0c0" />
<rect x="702" y="491" width="3" height="1" fill="#c0c0c0" />
<rect x="706" y="491" width="3" height="3" fill="#c0c0c0" />
<rect x="710" y="491" width="3" height="5" fill="#c0c0c0" />
<rect x="714" y="491" width="3" height="7" fill="#c0c0c0" />
<rect x="718" y="491" width="3" height="9" fill="#c0c0c0" />
<rect x="722" y="491" width="3" height="9" fill="#c0c0c0" />
<rect x="726" y="491" width="3" height="9" fill="#c0c0c0" />
<rect x="730" y="491" width="3" height="8" fill="#c0c0c0" />
<rect x="734" y="491" width="3" height="9" fill="#c0c0c0" />
<rect x="738" y="491" width="3" height="10" fill="#c0c0c0" />
<rect x="742" y="491" width="3" height="11" fill="#c0c0c0" />
<rect x="746" y="491" width="3" height="12" fill="#c0c0c0" />
<rect x="750" y="491" width="3" height="13" fill="#c0c0c0" />
<rect x="754" y="491" width="3" height="11" fill="#c0c0c0" />
<rect x="758" y="491" width="3" height="9" fill="#c0c0c0" />
<rect x="762" y="491" width="3" height="4" fill="#c0c0c0" />
<rect x="766" y="491" width="3" height="1" fill="#c0c0c0" />
<rect x="770" y="491" width="3" height="1" fill="#c0c0c0" />
<rect x="774" y="491" width="3" height="1" fill="#c0c0c0" />
<rect x="778" y="491" width="3" height="1" fill="#c0c0c0" />
<rect x="782" y="491" width="3" height="1" fill="#c0c0c0" />
<rect x="786" y="491" width="3" height="1" fill="#c0c0c0" />
<rect x="790" y="488" width="3" height="3" fill="#c0c0c0" />
<rect x="794" y="491" width="3" height="1" fill="#c0c0c0" />
<rect x="798" y="491" width="3" height="4" fill="#c0c0c0" />
<rect x="802" y="491" width="3" height="4" fill="#c0c0c0" />
<rect x="806" y="491" width="3" height="5" fill="#c0c0c0" />
<rect x="810" y="491" width="3" height="5" fill="#c0c0c0" />
<rect x="814" y="491" width="3" height="5" fill="#c0c0c0" />
<rect x="818" y="491" width="3" height="6" fill="#c0c0c0" />
<rect x="822" y="491" width="3" height="5" fill="#c0c0c0" />
<rect x="826" y="491" width="3" height="4" fill="#c0c0c0" />
<rect x="830" y="491" width="3" height="7" fill="#c0c0c0" />
<rect x="834" y="491" width="3" height="8" fill="#c0c0c0" />
<rect x="838" y="491" width="3" height="9" fill="#c0c0c0" />
<rect x="842" y="491" width="3" height="9" fill="#c0c0c0" />
<rect x="846" y="491" width="3" height="16" fill="#c0c0c0" />
<rect x="850" y="491" width="3" height="20" fill="#c0c0c0" />
<rect x="854" y="491" width="3" height="21" fill="#c0c0c0" />
<rect x="858" y="491" width="3" height="24" fill="#c0c0c0" />
<rect x="862" y="491" width="3" height="26" fill="#c0c0c0" />
<rect x="866" y="491" width="3" height="27" fill="#c0c0c0" />
<rect x="870" y="491" width="3" height="27" fill="#c0c0c0" />
<rect x="874" y="491" width="3" height="25" fill="#c0c0c0" />
<rect x="878" y="491" width="3" height="23" fill="#c0c0c0" />
<rect x="882" y="491" width="3" height="21" fill="#c0c0c0" />
<rect x="886" y="491" width="3" height="21" fill="#c0c0c0" />
<rect x="890" y="491" width="3" height="20" fill="#c0c0c0" />
<rect x="894" y="491" width="3" height="19" fill="#c0c0c0" />
<rect x="898" y="491" width="3" height="18" fill="#c0c0c0" />
<rect x="902" y="491" width="3" height="18" fill="#c0c0c0" />
<rect x="906" y="491" width="3" height="17" fill="#c0c0c0" />
<rect x="910" y="491" width="3" height="16" fill="#c0c0c0" />
<rect x="914" y="491" width="3" height="15" fill="#c0c0c0" />
<rect x="918" y="491" width="3" height="16" fill="#c0c0c0" />
<rect x="922" y="491" width="3" height="16" fill="#c0c0c0" />
<path d="M3.5 524v1M4.5 523v1M5.5 523v1M6.5 523v1M7.5 522v1M8.5 522v1M9.5 522v1M10.5 521v1M11.5 521v1M12.5 520v1M13.5 520v1M14.5 520v1M15.5 519v1M16.5 519v1M17.5 519v1M18.5 519v1M19.5 518v1M20.5 518v1M21.5 518v1M22.5 517v1M23.5 517v1M24.5 517v1M25.5 517v1M26.5 516v1M27.5 516v1M28.5 517v1M29.5 517v1M30.5 517v1M31.5 517v1M32.5 518v1M33.5 518v1M34.5 518v1M35.5 518v1M36.5 518v1M37.5 519v1M38.5 519v1M39.5 519v1M40.5 520v1M41.5 520v1M42.5 520v1M43.5 521v1M44.5 521v1M45.5 521v1M46.5 522v1M47.5 522v1M48.5 522v1M49.5 523v1M50.5 523v1M51.5 524v1M52.5 524v1M53.5 524v1M54.5 525v1M55.5 525v1M56.5 526v1M57.5 526v1M58.5 526v1M59.5 526v1M60.5 526v1M61.5 526v1M62.5 526v1M63.5 526v1M64.5 526v1M65.5 526v1M66.5 526v1M67.5 525v1M68.5 525v1M69.5 524v1M70.5 524v1M71.5 524v1M72.5 523v1M73.5 523v1M74.5 522v1M75.5 522v1M76.5 522v1M77.5 521v1M78.5 521v1M79.5 520v1M80.5 520v1M81.5 519v1M82.5 519v1M83.5 518v1M84.5 518v1M85.5 517v1M86.5 517v1M87.5 516v1M88.5 516v1M89.5 515v1M90.5 515v1M91.5 514v1M92.5 514v1M93.5 513v1M94.5 512v1M95.5 512v1M96.5 511v1M97.5 511v1M98.5 510v1M99.5 510v1M100.5 509v1M101.5 509v1M102.5 509v1M103.5 508v1M104.5 508v1M105.5 508v1M106.5 508v1M107.5 507v1M108.5 507v1M109.5 507v1M110.5 506v1M111.5 506v1M112.5 506v1M113.5 506v1M114.5 506v1M115.5 505v1M116.5 505v1M117.5 505v1M118.5 505v1M119.5 505v1M120.5 505v1M121.5 505v1M122.5 505v1M123.5 505v1M124.5 505v1M125.5 504v1M126.5 505v1M127.5 505v1M128.5 505v1M129.5 505v1M130.5 506v1M131.5 506v1M132.5 506v1M133.5 506v1M134.5 507v1M135.5 507v1M136.5 507v1M137.5 507v1M138.5 508v1M139.5 508v1M140.5 508v1M141.5 509v1M142.5 509v1M143.5 509v1M144.5 510v1M145.5 510v1M146.5 510v1M147.5 510v1M148.5 511v1M149.5 511v1M150.5 511v1M151.5 512v1M152.5 512v1M153.5 512v1M154.5 512v1M155.5 512v1M156.5 512v1M157.5 512v1M158.5 512v1M159.5 512v1M160.5 512v1M161.5 512v1M162.5 512v1M163.5 512v1M164.5 512v1M165.5 512v1M166.5 512v1M167.5 512v1M168.5 511v1M169.5 511v1M170.5 510v1M171.5 510v1M172.5 510v1M173.5 509v1M174.5 509v1M175.5 509v1M176.5 508v1M177.5 508v1M178.5 507v1M179.5 506v1M180.5 506v1M181.5 505v1M182.5 504v1M183.5 503v1M184.5 503v1M185.5 502v1M186.5 501v1M187.5 500v1M188.5 500v1M189.5 499v1M190.5 498v1M191.5 497v1M192.5 497v1M193.5 496v1M194.5 495v1M195.5 495v1M196.5 494v1M197.5 493v1M198.5 493v1M199.5 492v1M200.5 491v1M201.5 491v1M202.5 490v1M203.5 489v1M204.5 489v1M205.5 488v1M206.5 488v1M207.5 487v1M208.5 486v1M209.5 486v1M210.5 485v1M211.5 484v1M212.5 484v1M213.5 483v1M214.5 483v1M215.5 482v1M216.5 482v1M217.5 481v1M218.5 481v1M219.5 481v1M220.5 480v1M221.5 480v1M222.5 480v1M223.5 479v1M224.5 479v1M225.5 478v1M226.5 478v1M227.5 478v1M228.5 478v1M229.5 477v1M230.5 477v1M231.5 476v1M232.5 476v1M233.5 476v1M234.5 476v1M235.5 476v1M236.5 476v1M237.5 476v1M238.5 476v1M239.5 476v1M240.5 476v1M241.5 476v1M242.5 476v1M243.5 476v1M244.5 476v1M245.5 476v1M246.5 476v1M247.5 477v1M248.5 477v1M249.5 477v1M250.5 477v1M251.5 477v1M252.5 477v1M253.5 477v1M254.5 477v1M255.5 477v1M256.5 476v1M257.5 476v1M258.5 476v1M259.5 476v1M260.5 476v1M261.5 476v1M262.5 475v1M263.5 475v1M264.5 475v1M265.5 474v1M266.5 474v1M267.5 474v1M268.5 473v1M269.5 473v1M270.5 472v1M271.5 472v1M272.5 472v1M273.5 471v1M274.5 471v1M275.5 470v1M276.5 470v1M277.5 469v1M278.5 469v1M279.5 469v1M280.5 468v1M281.5 468v1M282.5 467v1M283.5 467v1M284.5 467v1M285.5 466v1M286.5 466v1M287.5 465v1M288.5 465v1M289.5 465v1M290.5 465v1M291.5 464v1M292.5 464v1M293.5 464v1M294.5 464v1M295.5 464v1M296.5 464v1M297.5 464v1M298.5 463v1M299.5 463v1M300.5 463v1M301.5 463v1M302.5 464v1M303.5 464v1M304.5 464v1M305.5 464v1M306.5 465v1M307.5 465v1M308.5 465v1M309.5 466v1M310.5 466v1M311.5 466v1M312.5 467v1M313.5 467v1M314.5 468v1M315.5 468v1M316.5 469v1M317.5 469v1M318.5 470v1M319.5 470v1M320.5 471v1M321.5 472v1M322.5 472v1M323.5 473v1M324.5 474v1M325.5 474v1M326.5 475v1M327.5 476v1M328.5 476v1M329.5 477v1M330.5 478v1M331.5 479v1M332.5 479v1M333.5 480v1M334.5 481v1M335.5 481v1M336.5 482v1M337.5 483v1M338.5 484v1M339.5 484v1M340.5 485v1M341.5 486v1M342.5 486v1M343.5 487v1M344.5 488v1M345.5 489v1M346.5 490v1M347.5 490v1M348.5 491v1M349.5 492v1M350.5 493v1M351.5 494v1M352.5 494v1M353.5 495v1M354.5 496v1M355.5 497v1M356.5 498v1M357.5 498v1M358.5 499v1M359.5 500v1M360.5 501v1M361.5 501v1M362.5 502v1M363.5 502v1M364.5 503v1M365.5 504v1M366.5 504v1M367.5 505v1M368.5 505v1M369.5 505v1M370.5 506v1M371.5 506v1M372.5 506v1M373.5 506v1M374.5 507v1M375.5 507v1M376.5 507v1M377.5 508v1M378.5 508v1M379.5 508v1M380.5 509v1M381.5 509v1M382.5 510v1M383.5 510v1M384.5 510v1M385.5 511v1M386.5 511v1M387.5 511v1M388.5 512v1M389.5 512v1M390.5 512v1M391.5 512v1M392.5 513v1M393.5 513v1M394.5 513v1M395.5 514v1M396.5 514v1M397.5 514v1M398.5 515v1M399.5 515v1M400.5 515v1M401.5 515v1M402.5 516v1M403.5 516v1M404.5 516v1M405.5 516v1M406.5 517v1M407.5 517v1M408.5 517v1M409.5 517v1M410.5 517v1M411.5 518v1M412.5 518v1M413.5 518v1M414.5 518v1M415.5 518v1M416.5 518v1M417.5 518v1M418.5 518v1M419.5 518v1M420.5 518v1M421.5 518v1M422.5 517v1M423.5 517v1M424.5 517v1M425.5 517v1M426.5 517v1M427.5 517v1M428.5 517v1M429.5 517v1M430.5 517v1M431.5 517v1M432.5 517v1M433.5 517v1M434.5 517v1M435.5 517v1M436.5 518v1M437.5 518v1M438.5 518v1M439.5 519v1M440.5 519v1M441.5 519v1M442.5 520v1M443.5 520v1M444.5 520v1M445.5 521v1M446.5 521v1M447.5 522v1M448.5 522v1M449.5 522v1M450.5 523v1M451.5 523v1M452.5 523v1M453.5 524v1M454.5 524v1M455.5 524v1M456.5 524v1M457.5 525v1M458.5 525v1M459.5 525v1M460.5 525v1M461.5 525v1M462.5 525v1M463.5 525v1M464.5 526v1M465.5 526v1M466.5 526v1M467.5 525v1M468.5 525v1M469.5 525v1M470.5 525v1M471.5 524v1M472.5 524v1M473.5 524v1M474.5 524v1M475.5 523v1M476.5 523v1M477.5 523v1M478.5 522v1M479.5 522v1M480.5 521v1M481.5 521v1M482.5 520v1M483.5 520v1M484.5 519v1M485.5 518v1M486.5 518v1M487.5 517v1M488.5 517v1M489.5 516v1M490.5 516v1M491.5 515v1M492.5 514v1M493.5 514v1M494.5 513v1M495.5 513v1M496.5 512v1M497.5 511v1M498.5 511v1M499.5 510v1M500.5 509v1M501.5 508v1M502.5 507v1M503.5 506v1M504.5 505v1M505.5 504v1M506.5 503v1M507.5 502v1M508.5 501v1M509.5 499v2M510.5 498v1M511.5 497v1M512.5 496v1M513.5 495v1M514.5 494v1M515.5 493v1M516.5 492v1M517.5 491v1M518.5 490v1M519.5 489v1M520.5 488v1M521.5 487v1M522.5 486v1M523.5 485v1M524.5 484v1M525.5 484v1M526.5 483v1M527.5 482v1M528.5 481v1M529.5 481v1M530.5 480v1M531.5 479v1M532.5 479v1M533.5 478v1M534.5 478v1M535.5 477v1M536.5 477v1M537.5 476v1M538.5 476v1M539.5 475v1M540.5 474v1M541.5 474v1M542.5 474v1M543.5 474v1M544.5 474v1M545.5 474v1M546.5 474v1M547.5 474v1M548.5 474v1M549.5 474v1M550.5 474v1M551.5 474v1M552.5 474v1M553.5 474v1M554.5 474v1M555.5 474v1M556.5 474v1M557.5 473v1M558.5 473v1M559.5 473v1M560.5 473v1M561.5 473v1M562.5 473v1M563.5 473v1M564.5 473v1M565.5 473v1M566.5 473v1M567.5 473v1M568.5 473v1M569.5 473v1M570.5 473v1M571.5 473v1M572.5 473v1M573.5 473v1M574.5 473v1M575.5 474v1M576.5 474v1M577.5 474v1M578.5 474v1M579.5 474v1M580.5 474v1M581.5 474v1M582.5 474v1M583.5 474v1M584.5 474v1M585.5 474v1M586.5 474v1M587.5 475v1M588.5 475v1M589.5 475v1M590.5 476v1M591.5 476v1M592.5 476v1M593.5 476v1M594.5 476v1M595.5 477v1M596.5 477v1M597.5 477v1M598.5 477v1M599.5 478v1M600.5 478v1M601.5 478v1M602.5 478v1M603.5 478v1M604.5 478v1M605.5 478v1M606.5 478v1M607.5 478v1M608.5 478v1M609.5 478v1M610.5 478v1M611.5 478v1M612.5 478v1M613.5 478v1M614.5 478v1M615.5 478v1M616.5 478v1M617.5 479v1M618.5 479v1M619.5 479v1M620.5 480v1M621.5 480v1M622.5 480v1M623.5 480v1M624.5 480v1M625.5 481v1M626.5 481v1M627.5 481v1M628.5 482v1M629.5 482v1M630.5 482v1M631.5 482v1M632.5 482v1M633.5 483v1M634.5 483v1M635.5 483v1M636.5 484v1M637.5 484v1M638.5 484v1M639.5 484v1M640.5 484v1M641.5 485v1M642.5 485v1M643.5 485v1M644.5 486v1M645.5 486v1M646.5 486v1M647.5 486v1M648.5 486v1M649.5 487v1M650.5 487v1M651.5 487v1M652.5 487v1M653.5 487v1M654.5 487v1M655.5 487v1M656.5 487v1M657.5 487v1M658.5 487v1M659.5 488v1M660.5 488v1M661.5 488v1M662.5 488v1M663.5 488v1M664.5 488v1M665.5 488v1M666.5 488v1M667.5 488v1M668.5 488v1M669.5 488v1M670.5 487v1M671.5 487v1M672.5 487v1M673.5 487v1M674.5 487v1M675.5 487v1M676.5 487v1M677.5 486v1M678.5 486v1M679.5 486v1M680.5 486v1M681.5 486v1M682.5 486v1M683.5 486v1M684.5 486v1M685.5 486v1M686.5 485v1M687.5 485v1M688.5 485v1M689.5 485v1M690.5 485v1M691.5 485v1M692.5 485v1M693.5 485v1M694.5 485v1M695.5 485v1M696.5 485v1M697.5 485v1M698.5 486v1M699.5 486v1M700.5 486v1M701.5 486v1M702.5 486v1M703.5 486v1M704.5 486v1M705.5 486v1M706.5 486v1M707.5 487v1M708.5 487v1M709.5 487v1M710.5 488v1M711.5 488v1M712.5 488v1M713.5 489v1M714.5 489v1M715.5 490v1M716.5 490v1M717.5 491v1M718.5 491v1M719.5 492v1M720.5 493v1M721.5 493v1M722.5 493v1M723.5 494v1M724.5 494v1M725.5 495v1M726.5 495v1M727.5 495v1M728.5 496v1M729.5 496v1M730.5 496v1M731.5 497v1M732.5 497v1M733.5 497v1M734.5 497v1M735.5 498v1M736.5 498v1M737.5 498v1M738.5 498v1M739.5 499v1M740.5 499v1M741.5 499v1M742.5 499v1M743.5 500v1M744.5 500v1M745.5 500v1M746.5 500v1M747.5 500v1M748.5 500v1M749.5 501v1M750.5 501v1M751.5 501v1M752.5 501v1M753.5 501v1M754.5 501v1M755.5 501v1M756.5 501v1M757.5 501v1M758.5 501v1M759.5 501v1M760.5 501v1M761.5 501v1M762.5 500v1M763.5 500v1M764.5 500v1M765.5 500v1M766.5 500v1M767.5 500v1M768.5 499v1M769.5 499v1M770.5 499v1M771.5 499v1M772.5 498v1M773.5 498v1M774.5 498v1M775.5 498v1M776.5 497v1M777.5 497v1M778.5 497v1M779.5 496v1M780.5 496v1M781.5 496v1M782.5 495v1M783.5 495v1M784.5 495v1M785.5 494v1M786.5 494v1M787.5 494v1M788.5 493v1M789.5 493v1M790.5 492v1M791.5 492v1M792.5 492v1M793.5 492v1M794.5 492v1M795.5 491v1M796.5 491v1M797.5 491v1M798.5 491v1M799.5 491v1M800.5 491v1M801.5 492v1M802.5 492v1M803.5 492v1M804.5 492v1M805.5 492v1M806.5 492v1M807.5 492v1M808.5 492v1M809.5 492v1M810.5 492v1M811.5 492v1M812.5 492v1M813.5 492v1M814.5 493v1M815.5 493v1M816.5 493v1M817.5 493v1M818.5 493v1M819.5 493v1M820.5 493v1M821.5 494v1M822.5 494v1M823.5 494v1M824.5 494v1M825.5 494v1M826.5 494v1M827.5 494v1M828.5 495v1M829.5 495v1M830.5 495v1M831.5 495v1M832.5 495v1M833.5 495v1M834.5 495v1M835.5 495v1M836.5 495v1M837.5 495v1M838.5 496v1M839.5 496v1M840.5 496v1M841.5 496v1M842.5 496v1M843.5 496v1M844.5 496v1M845.5 497v1M846.5 497v1M847.5 497v1M848.5 498v1M849.5 498v1M850.5 498v1M851.5 499v1M852.5 499v1M853.5 500v1M854.5 500v1M855.5 501v1M856.5 502v1M857.5 502v1M858.5 503v1M859.5 503v1M860.5 504v1M861.5 504v1M862.5 505v1M863.5 506v1M864.5 506v1M865.5 507v1M866.5 507v1M867.5 508v1M868.5 508v1M869.5 509v1M870.5 509v1M871.5 510v1M872.5 510v1M873.5 511v1M874.5 511v1M875.5 512v1M876.5 512v1M877.5 513v1M878.5 513v1M879.5 513v1M880.5 513v1M881.5 514v1M882.5 514v1M883.5 514v1M884.5 514v1M885.5 514v1M886.5 514v1M887.5 514v1M888.5 514v1M889.5 514v1M890.5 514v1M891.5 514v1M892.5 514v1M893.5 514v1M894.5 514v1M895.5 514v1M896.5 514v1M897.5 514v1M898.5 514v1M899.5 514v1M900.5 513v1M901.5 513v1M902.5 513v1M903.5 513v1M904.5 512v1M905.5 512v1M906.5 512v1M907.5 512v1M908.5 511v1M909.5 511v1M910.5 511v1M911.5 511v1M912.5 510v1M913.5 510v1M914.5 510v1M915.5 510v1M916.5 510v1M917.5 509v1M918.5 509v1M919.5 509v1M920.5 509v1M921.5 509v1M922.5 509v1M923.5 508v1" fill="none" stroke="#ff0000" stroke-width="1"/>
<text x="7" y="468" font-size="9.6" fill="#000" text-anchor="start" font-weight="normal" textLength="153.5" lengthAdjust="spacingAndGlyphs" >MACD(12,26,9) -0.011543 -0.012816</text>
<line x1="4" y1="560.5" x2="1165" y2="560.5" stroke="#c0c0c0" stroke-width="1" stroke-dasharray="3,3"/>
<line x1="4" y1="591.5" x2="1165" y2="591.5" stroke="#c0c0c0" stroke-width="1" stroke-dasharray="3,3"/>
<path d="M3.5 581v1M4.5 582v1M5.5 583v1M6.5 584v1M7.5 585v1M8.5 584v1M9.5 583v1M10.5 582v1M11.5 580v2M12.5 581v1M13.5 582v1M14.5 582v1M15.5 583v1M16.5 584v1M17.5 584v1M18.5 585v1M19.5 586v1M20.5 586v1M21.5 586v1M22.5 587v1M23.5 587v1M24.5 588v2M25.5 590v1M26.5 591v2M27.5 593v2M28.5 594v1M29.5 595v1M30.5 596v1M31.5 596v1M32.5 595v1M33.5 594v1M34.5 593v1M35.5 592v1M36.5 591v1M37.5 590v1M38.5 588v2M39.5 587v1M40.5 587v1M41.5 586v1M42.5 586v1M43.5 586v1M44.5 585v1M45.5 585v1M46.5 584v1M47.5 584v1M48.5 585v1M49.5 586v1M50.5 587v2M51.5 589v1M52.5 588v1M53.5 586v2M54.5 585v1M55.5 583v2M56.5 583v1M57.5 583v1M58.5 583v1M59.5 583v1M60.5 582v1M61.5 582v1M62.5 581v1M63.5 580v1M64.5 579v1M65.5 578v1M66.5 577v1M67.5 576v1M68.5 577v1M69.5 578v1M70.5 579v1M71.5 580v1M72.5 581v1M73.5 581v1M74.5 582v1M75.5 582v1M76.5 582v1M77.5 582v1M78.5 582v1M79.5 582v1M80.5 580v2M81.5 579v1M82.5 577v2M83.5 575v2M84.5 575v1M85.5 576v1M86.5 576v1M87.5 577v1M88.5 577v1M89.5 578v1M90.5 579v1M91.5 579v1M92.5 578v1M93.5 576v2M94.5 575v1M95.5 573v2M96.5 574v2M97.5 576v1M98.5 577v1M99.5 578v2M100.5 580v1M101.5 581v1M102.5 582v1M103.5 582v1M104.5 581v1M105.5 580v1M106.5 579v1M107.5 578v1M108.5 578v1M109.5 579v1M110.5 580v1M111.5 580v1M112.5 580v1M113.5 580v1M114.5 580v1M115.5 580v1M116.5 580v1M117.5 579v1M118.5 578v1M119.5 577v1M120.5 578v1M121.5 578v1M122.5 579v1M123.5 580v1M124.5 580v1M125.5 581v1M126.5 581v1M127.5 582v1M128.5 583v1M129.5 584v1M130.5 585v1M131.5 586v1M132.5 586v1M133.5 585v1M134.5 584v1M135.5 584v1M136.5 584v1M137.5 584v1M138.5 585v1M139.5 585v1M140.5 585v1M141.5 584v1M142.5 584v1M143.5 584v1M144.5 585v1M145.5 586v1M146.5 586v1M147.5 587v1M148.5 586v1M149.5 584v2M150.5 582v2M151.5 580v2M152.5 580v1M153.5 580v1M154.5 580v1M155.5 580v1M156.5 579v1M157.5 578v1M158.5 577v1M159.5 576v1M160.5 575v1M161.5 575v1M162.5 575v1M163.5 574v1M164.5 574v1M165.5 574v1M166.5 574v1M167.5 574v1M168.5 575v1M169.5 575v1M170.5 575v1M171.5 575v1M172.5 576v1M173.5 576v1M174.5 577v1M175.5 578v1M176.5 575v3M177.5 573v2M178.5 571v2M179.5 568v3M180.5 569v1M181.5 570v1M182.5 571v1M183.5 571v1M184.5 572v1M185.5 573v1M186.5 574v1M187.5 575v1M188.5 575v1M189.5 574v1M190.5 574v1M191.5 573v1M192.5 573v1M193.5 573v1M194.5 573v1M195.5 572v1M196.5 572v1M197.5 572v1M198.5 571v1M199.5 571v1M200.5 570v1M201.5 569v1M202.5 568v1M203.5 567v1M204.5 566v1M205.5 565v1M206.5 564v1M207.5 562v2M208.5 563v2M209.5 565v1M210.5 566v2M211.5 568v1M212.5 569v1M213.5 570v1M214.5 571v1M215.5 572v1M216.5 573v1M217.5 574v1M218.5 575v1M219.5 575v1M220.5 575v1M221.5 574v1M222.5 573v1M223.5 572v1M224.5 573v1M225.5 573v1M226.5 573v1M227.5 573v1M228.5 573v1M229.5 573v1M230.5 573v1M231.5 572v1M232.5 573v1M233.5 574v1M234.5 575v1M235.5 575v1M236.5 574v1M237.5 574v1M238.5 573v1M239.5 572v1M240.5 572v1M241.5 572v1M242.5 571v1M243.5 571v1M244.5 571v1M245.5 571v1M246.5 571v1M247.5 571v1M248.5 571v1M249.5 570v1M250.5 569v1M251.5 568v1M252.5 568v1M253.5 568v1M254.5 567v1M255.5 567v1M256.5 566v1M257.5 566v1M258.5 565v1M259.5 564v1M260.5 565v1M261.5 566v1M262.5 566v1M263.5 566v1M264.5 565v1M265.5 564v1M266.5 563v1M267.5 561v2M268.5 562v1M269.5 562v1M270.5 562v1M271.5 562v1M272.5 563v1M273.5 564v1M274.5 565v1M275.5 565v1M276.5 565v1M277.5 564v1M278.5 564v1M279.5 563v1M280.5 564v1M281.5 565v2M282.5 567v1M283.5 568v1M284.5 569v1M285.5 570v1M286.5 571v1M287.5 572v1M288.5 572v1M289.5 572v1M290.5 571v1M291.5 570v1M292.5 570v1M293.5 570v1M294.5 570v1M295.5 569v1M296.5 569v1M297.5 569v1M298.5 569v1M299.5 568v1M300.5 569v1M301.5 570v1M302.5 570v1M303.5 571v1M304.5 571v1M305.5 572v1M306.5 572v1M307.5 572v1M308.5 573v1M309.5 574v1M310.5 574v1M311.5 575v1M312.5 575v1M313.5 576v1M314.5 576v1M315.5 577v1M316.5 577v1M317.5 577v1M318.5 577v1M319.5 577v1M320.5 578v1M321.5 579v1M322.5 580v1M323.5 581v1M324.5 581v1M325.5 582v1M326.5 583v1M327.5 583v1M328.5 584v1M329.5 584v1M330.5 585v1M331.5 585v1M332.5 585v1M333.5 585v1M334.5 584v1M335.5 584v1M336.5 584v1M337.5 584v1M338.5 585v1M339.5 585v1M340.5 586v1M341.5 587v1M342.5 588v1M343.5 588v1M344.5 588v1M345.5 587v1M346.5 586v1M347.5 585v1M348.5 586v1M349.5 586v1M350.5 586v1M351.5 587v1M352.5 587v1M353.5 588v1M354.5 589v1M355.5 589v1M356.5 588v1M357.5 587v1M358.5 586v1M359.5 585v1M360.5 586v1M361.5 586v1M362.5 586v1M363.5 586v1M364.5 585v1M365.5 584v1M366.5 582v2M367.5 581v1M368.5 581v1M369.5 581v1M370.5 581v1M371.5 581v1M372.5 582v1M373.5 583v2M374.5 585v1M375.5 586v1M376.5 587v2M377.5 589v2M378.5 591v2M379.5 593v2M380.5 594v1M381.5 593v1M382.5 593v1M383.5 592v1M384.5 592v1M385.5 591v1M386.5 591v1M387.5 590v1M388.5 588v2M389.5 586v2M390.5 584v2M391.5 582v2M392.5 583v1M393.5 583v1M394.5 583v1M395.5 583v1M396.5 584v1M397.5 584v1M398.5 585v1M399.5 585v1M400.5 585v1M401.5 585v1M402.5 585v1M403.5 584v1M404.5 585v1M405.5 586v1M406.5 586v1M407.5 587v1M408.5 586v1M409.5 585v1M410.5 584v1M411.5 582v2M412.5 583v1M413.5 583v1M414.5 584v1M415.5 584v1M416.5 584v1M417.5 584v1M418.5 584v1M419.5 583v1M420.5 584v1M421.5 585v1M422.5 586v1M423.5 587v1M424.5 587v1M425.5 588v1M426.5 588v1M427.5 588v1M428.5 589v1M429.5 590v1M430.5 591v1M431.5 592v1M432.5 592v1M433.5 592v1M434.5 593v1M435.5 593v1M436.5 594v1M437.5 594v1M438.5 595v1M439.5 595v1M440.5 594v1M441.5 594v1M442.5 593v1M443.5 592v1M444.5 592v1M445.5 591v1M446.5 590v1M447.5 589v1M448.5 588v1M449.5 588v1M450.5 588v1M451.5 587v1M452.5 586v1M453.5 585v1M454.5 584v1M455.5 582v2M456.5 583v1M457.5 583v1M458.5 584v1M459.5 584v1M460.5 584v1M461.5 585v1M462.5 585v1M463.5 585v1M464.5 584v1M465.5 583v1M466.5 582v1M467.5 581v1M468.5 582v1M469.5 582v1M470.5 582v1M471.5 583v1M472.5 583v1M473.5 583v1M474.5 584v1M475.5 584v1M476.5 583v1M477.5 583v1M478.5 582v1M479.5 581v1M480.5 580v1M481.5 580v1M482.5 579v1M483.5 578v1M484.5 578v1M485.5 578v1M486.5 577v1M487.5 577v1M488.5 575v2M489.5 573v2M490.5 571v2M491.5 569v2M492.5 569v1M493.5 568v1M494.5 567v1M495.5 566v1M496.5 566v1M497.5 566v1M498.5 566v1M499.5 565v1M500.5 565v1M501.5 565v1M502.5 565v1M503.5 564v1M504.5 564v1M505.5 564v1M506.5 563v1M507.5 562v1M508.5 562v1M509.5 562v1M510.5 562v1M511.5 562v1M512.5 563v1M513.5 564v1M514.5 564v1M515.5 565v1M516.5 566v1M517.5 566v1M518.5 567v1M519.5 568v1M520.5 568v1M521.5 568v1M522.5 568v1M523.5 568v1M524.5 568v1M525.5 568v1M526.5 568v1M527.5 567v1M528.5 567v1M529.5 567v1M530.5 567v1M531.5 566v1M532.5 566v1M533.5 566v1M534.5 566v1M535.5 565v1M536.5 565v1M537.5 566v1M538.5 566v1M539.5 566v1M540.5 567v1M541.5 568v1M542.5 568v1M543.5 569v1M544.5 568v1M545.5 567v1M546.5 566v1M547.5 565v1M548.5 566v1M549.5 566v1M550.5 567v1M551.5 567v1M552.5 566v1M553.5 565v1M554.5 564v1M555.5 563v1M556.5 564v1M557.5 565v1M558.5 565v1M559.5 566v1M560.5 567v1M561.5 568v1M562.5 568v1M563.5 569v1M564.5 569v1M565.5 568v1M566.5 568v1M567.5 567v1M568.5 568v2M569.5 570v2M570.5 572v2M571.5 574v1M572.5 574v1M573.5 574v1M574.5 574v1M575.5 574v1M576.5 574v1M577.5 573v1M578.5 573v1M579.5 572v1M580.5 570v2M581.5 569v1M582.5 567v2M583.5 565v2M584.5 566v1M585.5 567v1M586.5 568v1M587.5 569v1M588.5 570v2M589.5 572v1M590.5 573v2M591.5 575v1M592.5 575v1M593.5 574v1M594.5 574v1M595.5 573v1M596.5 573v1M597.5 573v1M598.5 573v1M599.5 573v1M600.5 573v1M601.5 572v1M602.5 572v1M603.5 571v1M604.5 569v2M605.5 567v2M606.5 565v2M607.5 562v3M608.5 563v3M609.5 566v2M610.5 568v3M611.5 571v2M612.5 573v2M613.5 575v1M614.5 576v2M615.5 578v1M616.5 578v1M617.5 578v1M618.5 578v1M619.5 577v1M620.5 577v1M621.5 577v1M622.5 577v1M623.5 577v1M624.5 577v1M625.5 577v1M626.5 577v1M627.5 577v1M628.5 577v1M629.5 577v1M630.5 577v1M631.5 577v1M632.5 578v1M633.5 578v1M634.5 578v1M635.5 578v1M636.5 577v1M637.5 576v1M638.5 575v1M639.5 574v1M640.5 573v1M641.5 573v1M642.5 572v1M643.5 572v1M644.5 572v1M645.5 572v1M646.5 571v1M647.5 571v1M648.5 572v1M649.5 573v1M650.5 573v1M651.5 574v1M652.5 574v1M653.5 574v1M654.5 574v1M655.5 574v1M656.5 575v1M657.5 575v1M658.5 575v1M659.5 575v1M660.5 575v1M661.5 575v1M662.5 575v1M663.5 574v1M664.5 573v1M665.5 572v1M666.5 571v1M667.5 569v2M668.5 570v1M669.5 571v1M670.5 572v1M671.5 572v1M672.5 572v1M673.5 570v2M674.5 570v1M675.5 568v2M676.5 568v1M677.5 568v1M678.5 568v1M679.5 568v1M680.5 569v2M681.5 571v2M682.5 573v1M683.5 574v2M684.5 576v1M685.5 576v1M686.5 577v1M687.5 578v1M688.5 578v1M689.5 578v1M690.5 578v1M691.5 578v1M692.5 577v1M693.5 576v1M694.5 575v1M695.5 574v1M696.5 575v2M697.5 577v1M698.5 578v2M699.5 580v1M700.5 580v1M701.5 580v1M702.5 580v1M703.5 579v1M704.5 580v1M705.5 581v1M706.5 582v1M707.5 582v1M708.5 582v1M709.5 582v1M710.5 582v1M711.5 582v1M712.5 583v1M713.5 583v1M714.5 583v1M715.5 584v1M716.5 584v1M717.5 585v1M718.5 585v1M719.5 586v1M720.5 585v1M721.5 584v1M722.5 583v1M723.5 582v1M724.5 581v1M725.5 580v1M726.5 578v2M727.5 577v1M728.5 577v1M729.5 578v1M730.5 578v1M731.5 578v1M732.5 578v1M733.5 579v1M734.5 579v1M735.5 580v1M736.5 581v1M737.5 582v1M738.5 582v1M739.5 583v1M740.5 583v1M741.5 583v1M742.5 583v1M743.5 583v1M744.5 584v1M745.5 584v1M746.5 584v1M747.5 584v1M748.5 585v1M749.5 586v1M750.5 586v1M751.5 587v1M752.5 585v2M753.5 582v3M754.5 580v2M755.5 578v2M756.5 576v2M757.5 575v1M758.5 574v1M759.5 572v2M760.5 572v1M761.5 571v1M762.5 570v1M763.5 569v1M764.5 569v1M765.5 569v1M766.5 569v1M767.5 568v1M768.5 569v2M769.5 570v1M770.5 571v2M771.5 572v1M772.5 573v1M773.5 574v1M774.5 574v1M775.5 575v1M776.5 575v1M777.5 575v1M778.5 575v1M779.5 575v1M780.5 576v1M781.5 576v1M782.5 576v1M783.5 576v1M784.5 576v1M785.5 575v1M786.5 574v1M787.5 573v1M788.5 573v1M789.5 572v1M790.5 572v1M791.5 571v1M792.5 572v2M793.5 574v3M794.5 577v2M795.5 579v2M796.5 581v1M797.5 582v1M798.5 583v1M799.5 584v1M800.5 583v1M801.5 581v2M802.5 580v1M803.5 578v2M804.5 579v1M805.5 579v1M806.5 579v1M807.5 579v1M808.5 579v1M809.5 578v1M810.5 578v1M811.5 577v1M812.5 577v1M813.5 578v1M814.5 578v1M815.5 578v1M816.5 578v1M817.5 579v1M818.5 580v1M819.5 580v1M820.5 579v1M821.5 578v1M822.5 577v1M823.5 576v1M824.5 576v1M825.5 576v1M826.5 576v1M827.5 576v1M828.5 577v2M829.5 579v2M830.5 581v2M831.5 583v1M832.5 583v1M833.5 582v1M834.5 582v1M835.5 581v1M836.5 581v1M837.5 581v1M838.5 581v1M839.5 581v1M840.5 582v1M841.5 582v1M842.5 582v1M843.5 582v1M844.5 583v3M845.5 586v2M846.5 588v3M847.5 591v2M848.5 591v1M849.5 590v1M850.5 589v1M851.5 588v1M852.5 588v1M853.5 587v1M854.5 587v1M855.5 586v1M856.5 587v1M857.5 587v1M858.5 587v1M859.5 588v1M860.5 588v1M861.5 588v1M862.5 589v1M863.5 589v1M864.5 589v1M865.5 589v1M866.5 589v1M867.5 589v1M868.5 588v1M869.5 587v1M870.5 586v1M871.5 584v2M872.5 585v1M873.5 585v1M874.5 585v1M875.5 585v1M876.5 584v1M877.5 582v2M878.5 581v1M879.5 579v2M880.5 580v1M881.5 581v1M882.5 582v1M883.5 582v1M884.5 582v1M885.5 581v1M886.5 581v1M887.5 580v1M888.5 581v1M889.5 581v1M890.5 582v1M891.5 582v1M892.5 582v1M893.5 582v1M894.5 582v1M895.5 581v1M896.5 581v1M897.5 581v1M898.5 581v1M899.5 580v1M900.5 581v1M901.5 582v1M902.5 582v1M903.5 583v1M904.5 583v1M905.5 583v1M906.5 583v1M907.5 583v1M908.5 582v1M909.5 581v1M910.5 580v1M911.5 579v1M912.5 580v1M913.5 580v1M914.5 581v1M915.5 581v1M916.5 582v1M917.5 582v1M918.5 583v1M919.5 583v1M920.5 583v1M921.5 583v1M922.5 583v1M923.5 583v1" fill="none" stroke="#1e90ff" stroke-width="1"/>
<text x="7" y="548" font-size="9.6" fill="#000" text-anchor="start" font-weight="normal" textLength="68" lengthAdjust="spacingAndGlyphs" >RSI(14) 40.3801</text>
<rect x="3" y="616" width="1" height="3" fill="#000" />
<text x="2" y="628" font-size="9.6" fill="#000" text-anchor="start" font-weight="normal" textLength="51.5" lengthAdjust="spacingAndGlyphs" >23 Dec 2020</text>
<rect x="67" y="616" width="1" height="3" fill="#000" />
<text x="66" y="628" font-size="9.6" fill="#000" text-anchor="start" font-weight="normal" textLength="49" lengthAdjust="spacingAndGlyphs" >18 Jan 2021</text>
<rect x="131" y="616" width="1" height="3" fill="#000" />
<text x="130" y="628" font-size="9.6" fill="#000" text-anchor="start" font-weight="normal" textLength="46.5" lengthAdjust="spacingAndGlyphs" >9 Feb 2021</text>
<rect x="195" y="616" width="1" height="3" fill="#000" />
<text x="194" y="628" font-size="9.6" fill="#000" text-anchor="start" font-weight="normal" textLength="46" lengthAdjust="spacingAndGlyphs" >3 Mar 2021</text>
<rect x="259" y="616" width="1" height="3" fill="#000" />
<text x="258" y="628" font-size="9.6" fill="#000" text-anchor="start" font-weight="normal" textLength="51.5" lengthAdjust="spacingAndGlyphs" >25 Mar 2021</text>
<rect x="323" y="616" width="1" height="3" fill="#000" />
<text x="322" y="628" font-size="9.6" fill="#000" text-anchor="start" font-weight="normal" textLength="49.5" lengthAdjust="spacingAndGlyphs" >19 Apr 2021</text>
<rect x="387" y="616" width="1" height="3" fill="#000" />
<text x="386" y="628" font-size="9.6" fill="#000" text-anchor="start" font-weight="normal" textLength="52" lengthAdjust="spacingAndGlyphs" >11 May 2021</text>
<rect x="451" y="616" width="1" height="3" fill="#000" />
<text x="450" y="628" font-size="9.6" fill="#000" text-anchor="start" font-weight="normal" textLength="45" lengthAdjust="spacingAndGlyphs" >2 Jun 2021</text>
<rect x="515" y="616" width="1" height="3" fill="#000" />
<text x="514" y="628" font-size="9.6" fill="#000" text-anchor="start" font-weight="normal" textLength="50" lengthAdjust="spacingAndGlyphs" >24 Jun 2021</text>
<rect x="579" y="616" width="1" height="3" fill="#000" />
<text x="578" y="628" font-size="9.6" fill="#000" text-anchor="start" font-weight="normal" textLength="46.5" lengthAdjust="spacingAndGlyphs" >16 Jul 2021</text>
<rect x="643" y="616" width="1" height="3" fill="#000" />
<text x="642" y="628" font-size="9.6" fill="#000" text-anchor="start" font-weight="normal" textLength="46.5" lengthAdjust="spacingAndGlyphs" >9 Aug 2021</text>
<rect x="707" y="616" width="1" height="3" fill="#000" />
<text x="706" y="628" font-size="9.6" fill="#000" text-anchor="start" font-weight="normal" textLength="52" lengthAdjust="spacingAndGlyphs" >31 Aug 2021</text>
<rect x="771" y="616" width="1" height="3" fill="#000" />
<text x="770" y="628" font-size="9.6" fill="#000" text-anchor="start" font-weight="normal" textLength="50.5" lengthAdjust="spacingAndGlyphs" >22 Sep 2021</text>
<rect x="835" y="616" width="1" height="3" fill="#000" />
<text x="834" y="628" font-size="9.6" fill="#000" text-anchor="start" font-weight="normal" textLength="49.4" lengthAdjust="spacingAndGlyphs" >14 Oct 2021</text>
<rect x="899" y="616" width="1" height="3" fill="#000" />
<text x="898" y="628" font-size="9.6" fill="#000" text-anchor="start" font-weight="normal" textLength="48" lengthAdjust="spacingAndGlyphs" >5 Nov 2021</text>
<rect x="9" y="37" width="1" height="1" fill="#000" />
<rect x="8" y="38" width="3" height="1" fill="#000" />
<rect x="7" y="39" width="5" height="1" fill="#000" />
<rect x="6" y="40" width="7" height="1" fill="#000" />
<text x="18.2" y="42" font-size="9.6" fill="#000" text-anchor="start" font-weight="normal" textLength="67.3" lengthAdjust="spacingAndGlyphs" >USDCNH-,Daily</text>
<text x="93.1" y="42" font-size="9.6" fill="#000" text-anchor="start" font-weight="normal" textLength="141" lengthAdjust="spacingAndGlyphs" >6.37707 6.38380 6.37235 6.38171</text>
<rect x="1167" y="154" width="38" height="11" fill="#ff0000" />
<text x="1171" y="163" font-size="9.6" fill="#fff" text-anchor="start" font-weight="normal" textLength="33" lengthAdjust="spacingAndGlyphs" >6.52109</text>
<rect x="1167" y="239" width="38" height="11" fill="#ff0000" />
<text x="1171" y="248" font-size="9.6" fill="#fff" text-anchor="start" font-weight="normal" textLength="33" lengthAdjust="spacingAndGlyphs" >6.47015</text>
<rect x="1167" y="316" width="38" height="11" fill="#00ff00" />
<text x="1171" y="325" font-size="9.6" fill="#fff" text-anchor="start" font-weight="normal" textLength="33" lengthAdjust="spacingAndGlyphs" >6.42401</text>
<rect x="1167" y="406" width="38" height="11" fill="#0000ff" />
<text x="1171" y="415" font-size="9.6" fill="#fff" text-anchor="start" font-weight="normal" textLength="33" lengthAdjust="spacingAndGlyphs" >6.37007</text>
<rect x="1167" y="387" width="38" height="11" fill="#000" />
<text x="1171" y="396" font-size="9.6" fill="#fff" text-anchor="start" font-weight="normal" textLength="33" lengthAdjust="spacingAndGlyphs" >6.38171</text>
<rect x="5" y="49" width="221" height="59" fill="#fff" />
<path d="M6,50 H58 V74 H115 V107 H6 Z" fill="url(#bl)"/>
<path d="M173,50 H225 V107 H117 V74 H173 Z" fill="url(#bl)"/>
<rect x="10" y="73" width="44" height="1" fill="#1c1ca8" />
<rect x="10" y="74" width="44" height="1" fill="#8c8cf0" />
<rect x="177" y="73" width="44" height="1" fill="#1c1ca8" />
<rect x="177" y="74" width="44" height="1" fill="#8c8cf0" />
<rect x="60" y="50" width="111" height="22" fill="#fff" stroke="#b4b4b4" stroke-width="1"/>
<rect x="60.5" y="50.5" width="110" height="21" fill="#fff" />
<rect x="60" y="50" width="111" height="1" fill="#b4b4b4" />
<rect x="60" y="71" width="111" height="1" fill="#b4b4b4" />
<rect x="60" y="50" width="1" height="22" fill="#b4b4b4" />
<rect x="170" y="50" width="1" height="22" fill="#b4b4b4" />
<rect x="61" y="51" width="20" height="20" fill="url(#sp)" />
<rect x="81" y="51" width="1" height="20" fill="#b4b4b4" />
<rect x="150" y="51" width="20" height="20" fill="url(#sp)" />
<rect x="149" y="51" width="1" height="20" fill="#b4b4b4" />
<polygon points="68,59.3 73.4,59.3 70.7,62.6" fill="#5868c0" shape-rendering="auto"/>
<polygon points="157.2,62 162.6,62 159.9,58.7" fill="#5868c0" shape-rendering="auto"/>
<text x="145.8" y="64.5" font-size="11.4" fill="#000" text-anchor="end" font-weight="normal" textLength="23.8" lengthAdjust="spacingAndGlyphs" >3.00</text>
<text x="17.8" y="66" font-size="11.8" fill="#f0f0ff" text-anchor="start" font-weight="normal" textLength="26.8" lengthAdjust="spacingAndGlyphs" >SELL</text>
<text x="186" y="66" font-size="11.8" fill="#f0f0ff" text-anchor="start" font-weight="normal" textLength="24.6" lengthAdjust="spacingAndGlyphs" >BUY</text>
<text x="25.6" y="102" font-size="12" fill="#fff" text-anchor="start" font-weight="bold" textLength="24.8" lengthAdjust="spacingAndGlyphs" >6.38</text>
<text x="135.6" y="102" font-size="12" fill="#fff" text-anchor="start" font-weight="bold" textLength="24.8" lengthAdjust="spacingAndGlyphs" >6.38</text>
<text x="53.6" y="102.2" font-size="35.2" fill="#fff" text-anchor="start" font-weight="normal" textLength="36.4" lengthAdjust="spacingAndGlyphs" stroke="url(#bl)" stroke-width="0.45">17</text>
<text x="164.4" y="102.2" font-size="35.2" fill="#fff" text-anchor="start" font-weight="normal" textLength="36.2" lengthAdjust="spacingAndGlyphs" stroke="url(#bl)" stroke-width="0.45">38</text>
<text x="93.2" y="86" font-size="11" fill="#fff" text-anchor="start" font-weight="bold" textLength="6.5" lengthAdjust="spacingAndGlyphs" >1</text>
<text x="203.7" y="86" font-size="11" fill="#fff" text-anchor="start" font-weight="bold" textLength="7.8" lengthAdjust="spacingAndGlyphs" >8</text>
<rect x="0" y="636" width="1205" height="1" fill="#e8e8e8" />
<rect x="0" y="638" width="1205" height="1" fill="#000" />
<rect x="0" y="640" width="1205" height="18" fill="#f0f0f0" />
<rect x="0" y="659" width="1205" height="2" fill="#f0f0f0" />
<rect x="523" y="639" width="114" height="18" fill="#fff" />
<rect x="525" y="638" width="110" height="18" fill="#fff" />
<rect x="524" y="638" width="1" height="19" fill="#000" />
<rect x="635" y="638" width="1" height="19" fill="#000" />
<rect x="524" y="656" width="112" height="1" fill="#000" />
<text x="15.4" y="653" font-size="12.3" fill="#646464" text-anchor="start" font-weight="normal" textLength="77.7" lengthAdjust="spacingAndGlyphs" >USDX,Weekly</text>
<text x="115" y="653" font-size="12.3" fill="#646464" text-anchor="start" font-weight="normal" textLength="84.2" lengthAdjust="spacingAndGlyphs" >EURUSD-,Daily</text>
<text x="222" y="653" font-size="12.3" fill="#646464" text-anchor="start" font-weight="normal" textLength="87" lengthAdjust="spacingAndGlyphs" >AUDUSD-,Daily</text>
<text x="332.3" y="653" font-size="12.3" fill="#646464" text-anchor="start" font-weight="normal" textLength="72" lengthAdjust="spacingAndGlyphs" >USDCHF-,H4</text>
<text x="427.6" y="653" font-size="12.3" fill="#646464" text-anchor="start" font-weight="normal" textLength="85.4" lengthAdjust="spacingAndGlyphs" >USDCAD-,Daily</text>
<text x="536.5" y="653" font-size="12.3" fill="#000" text-anchor="start" font-weight="normal" textLength="87.5" lengthAdjust="spacingAndGlyphs" >USDCNH-,Daily</text>
<text x="647.1" y="653" font-size="12.3" fill="#646464" text-anchor="start" font-weight="normal" textLength="72.9" lengthAdjust="spacingAndGlyphs" >XAUUSD-,H1</text>
<rect x="104" y="642" width="1" height="13" fill="#787878" />
<rect x="212" y="642" width="1" height="13" fill="#787878" />
<rect x="320" y="642" width="1" height="13" fill="#787878" />
<rect x="416" y="642" width="1" height="13" fill="#787878" />
<rect x="732" y="642" width="1" height="13" fill="#787878" />
<polygon points="1184.5,644 1184.5,650 1180.5,647" fill="#a0a0a0" shape-rendering="auto"/>
<polygon points="1199.5,644 1199.5,650 1203.5,647" fill="#a0a0a0" shape-rendering="auto"/>
</svg></body></html>
